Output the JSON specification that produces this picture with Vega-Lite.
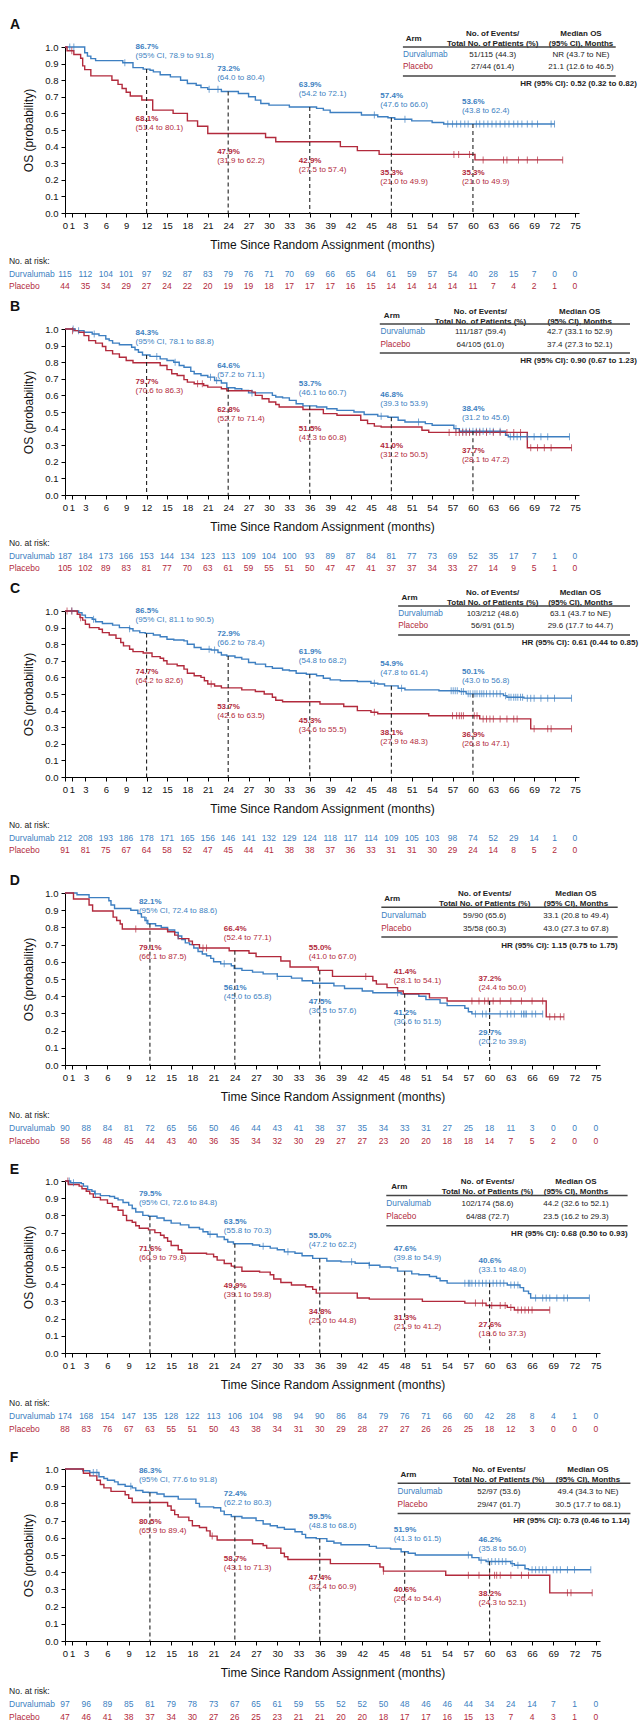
{
"$schema":"https://vega.github.io/schema/vega-lite/v6.json",
"background":"white",
"padding":{"left":8,"top":18,"right":0,"bottom":0},
"bounds":"flush",
"spacing":116,
"resolve":{"scale":{"x":"independent","y":"independent"}},
"config":{
 "font":"Liberation Sans, Arial, sans-serif",
 "view":{"stroke":null},
 "axis":{"grid":false,"domainColor":"#000","tickColor":"#000","labelColor":"#111","titleColor":"#111","labelFontSize":9.5,"titleFontSize":12,"titleFontWeight":"normal","tickSize":4,"labelPadding":3,"labelOverlap":false,"labelFlush":false,"titlePadding":10},
 "text":{"fontSize":8}
},
"datasets":{
"A":[
{"k":"hr","panel":"A","hr":"HR (95% CI): 0.52 (0.32 to 0.82)"},
{"k":"tab","arm":"Durvalumab","ev":"51/115 (44.3)","med":"NR (43.7 to NE)"},
{"k":"tab","arm":"Placebo","ev":"27/44 (61.4)","med":"21.1 (12.6 to 46.5)"},
{"k":"lm","arm":"Durvalumab","m":12,"v":0.867,"ci":"(95% CI, 78.9 to 91.8)"},
{"k":"lm","arm":"Durvalumab","m":24,"v":0.732,"ci":"(64.0 to 80.4)"},
{"k":"lm","arm":"Durvalumab","m":36,"v":0.639,"ci":"(54.2 to 72.1)"},
{"k":"lm","arm":"Durvalumab","m":48,"v":0.574,"ci":"(47.6 to 66.0)"},
{"k":"lm","arm":"Durvalumab","m":60,"v":0.536,"ci":"(43.8 to 62.4)"},
{"k":"lm","arm":"Placebo","m":12,"v":0.681,"ci":"(51.4 to 80.1)"},
{"k":"lm","arm":"Placebo","m":24,"v":0.479,"ci":"(31.9 to 62.2)"},
{"k":"lm","arm":"Placebo","m":36,"v":0.429,"ci":"(27.5 to 57.4)"},
{"k":"lm","arm":"Placebo","m":48,"v":0.353,"ci":"(21.0 to 49.9)"},
{"k":"lm","arm":"Placebo","m":60,"v":0.353,"ci":"(21.0 to 49.9)"},
{"k":"risk","m":0,"durvalumab":115,"placebo":44},{"k":"risk","m":3,"durvalumab":112,"placebo":35},{"k":"risk","m":6,"durvalumab":104,"placebo":34},{"k":"risk","m":9,"durvalumab":101,"placebo":29},{"k":"risk","m":12,"durvalumab":97,"placebo":27},{"k":"risk","m":15,"durvalumab":92,"placebo":24},{"k":"risk","m":18,"durvalumab":87,"placebo":22},{"k":"risk","m":21,"durvalumab":83,"placebo":20},{"k":"risk","m":24,"durvalumab":79,"placebo":19},{"k":"risk","m":27,"durvalumab":76,"placebo":19},{"k":"risk","m":30,"durvalumab":71,"placebo":18},{"k":"risk","m":33,"durvalumab":70,"placebo":17},{"k":"risk","m":36,"durvalumab":69,"placebo":17},{"k":"risk","m":39,"durvalumab":66,"placebo":17},{"k":"risk","m":42,"durvalumab":65,"placebo":16},{"k":"risk","m":45,"durvalumab":64,"placebo":15},{"k":"risk","m":48,"durvalumab":61,"placebo":14},{"k":"risk","m":51,"durvalumab":59,"placebo":14},{"k":"risk","m":54,"durvalumab":57,"placebo":14},{"k":"risk","m":57,"durvalumab":54,"placebo":14},{"k":"risk","m":60,"durvalumab":40,"placebo":11},{"k":"risk","m":63,"durvalumab":28,"placebo":7},{"k":"risk","m":66,"durvalumab":15,"placebo":4},{"k":"risk","m":69,"durvalumab":7,"placebo":2},{"k":"risk","m":72,"durvalumab":0,"placebo":1},{"k":"risk","m":75,"durvalumab":0,"placebo":0},
{"k":"km","arm":"Durvalumab","t":0,"s":1},{"k":"km","arm":"Durvalumab","t":2.9,"s":0.965},{"k":"km","arm":"Durvalumab","t":3.3,"s":0.945},{"k":"km","arm":"Durvalumab","t":3.8,"s":0.93},{"k":"km","arm":"Durvalumab","t":4.5,"s":0.918},{"k":"km","arm":"Durvalumab","t":8.5,"s":0.905},{"k":"km","arm":"Durvalumab","t":10,"s":0.876},{"k":"km","arm":"Durvalumab","t":11.5,"s":0.867},{"k":"km","arm":"Durvalumab","t":12.5,"s":0.86},{"k":"km","arm":"Durvalumab","t":13,"s":0.85},{"k":"km","arm":"Durvalumab","t":14,"s":0.833},{"k":"km","arm":"Durvalumab","t":15.5,"s":0.82},{"k":"km","arm":"Durvalumab","t":17,"s":0.8},{"k":"km","arm":"Durvalumab","t":18,"s":0.78},{"k":"km","arm":"Durvalumab","t":19.3,"s":0.77},{"k":"km","arm":"Durvalumab","t":20,"s":0.755},{"k":"km","arm":"Durvalumab","t":21,"s":0.745},{"k":"km","arm":"Durvalumab","t":23,"s":0.732},{"k":"km","arm":"Durvalumab","t":25.5,"s":0.72},{"k":"km","arm":"Durvalumab","t":27,"s":0.7},{"k":"km","arm":"Durvalumab","t":28,"s":0.68},{"k":"km","arm":"Durvalumab","t":28.8,"s":0.66},{"k":"km","arm":"Durvalumab","t":30,"s":0.65},{"k":"km","arm":"Durvalumab","t":33,"s":0.639},{"k":"km","arm":"Durvalumab","t":37,"s":0.63},{"k":"km","arm":"Durvalumab","t":38,"s":0.62},{"k":"km","arm":"Durvalumab","t":39,"s":0.605},{"k":"km","arm":"Durvalumab","t":43.6,"s":0.59},{"k":"km","arm":"Durvalumab","t":46,"s":0.58},{"k":"km","arm":"Durvalumab","t":47.5,"s":0.574},{"k":"km","arm":"Durvalumab","t":48.5,"s":0.565},{"k":"km","arm":"Durvalumab","t":51,"s":0.555},{"k":"km","arm":"Durvalumab","t":54,"s":0.545},{"k":"km","arm":"Durvalumab","t":55.7,"s":0.536},{"k":"km","arm":"Durvalumab","t":72,"s":0.536},
{"k":"cen","arm":"Durvalumab","t":0.7,"s":1},{"k":"cen","arm":"Durvalumab","t":1.3,"s":1},{"k":"cen","arm":"Durvalumab","t":8.8,"s":0.905},{"k":"cen","arm":"Durvalumab","t":21.2,"s":0.745},{"k":"cen","arm":"Durvalumab","t":22.5,"s":0.745},{"k":"cen","arm":"Durvalumab","t":45.5,"s":0.59},{"k":"cen","arm":"Durvalumab","t":50,"s":0.565},{"k":"cen","arm":"Durvalumab","t":56.3,"s":0.536},{"k":"cen","arm":"Durvalumab","t":57,"s":0.536},{"k":"cen","arm":"Durvalumab","t":57.6,"s":0.536},{"k":"cen","arm":"Durvalumab","t":58.2,"s":0.536},{"k":"cen","arm":"Durvalumab","t":58.8,"s":0.536},{"k":"cen","arm":"Durvalumab","t":59.3,"s":0.536},{"k":"cen","arm":"Durvalumab","t":60.5,"s":0.536},{"k":"cen","arm":"Durvalumab","t":61,"s":0.536},{"k":"cen","arm":"Durvalumab","t":61.6,"s":0.536},{"k":"cen","arm":"Durvalumab","t":62.2,"s":0.536},{"k":"cen","arm":"Durvalumab","t":62.8,"s":0.536},{"k":"cen","arm":"Durvalumab","t":63.4,"s":0.536},{"k":"cen","arm":"Durvalumab","t":64,"s":0.536},{"k":"cen","arm":"Durvalumab","t":64.7,"s":0.536},{"k":"cen","arm":"Durvalumab","t":65.3,"s":0.536},{"k":"cen","arm":"Durvalumab","t":66,"s":0.536},{"k":"cen","arm":"Durvalumab","t":66.6,"s":0.536},{"k":"cen","arm":"Durvalumab","t":67.2,"s":0.536},{"k":"cen","arm":"Durvalumab","t":68,"s":0.536},{"k":"cen","arm":"Durvalumab","t":68.7,"s":0.536},{"k":"cen","arm":"Durvalumab","t":69.5,"s":0.536},{"k":"cen","arm":"Durvalumab","t":71.5,"s":0.536},{"k":"cen","arm":"Durvalumab","t":72,"s":0.536},
{"k":"km","arm":"Placebo","t":0,"s":1},{"k":"km","arm":"Placebo","t":0.3,"s":0.977},{"k":"km","arm":"Placebo","t":1.3,"s":0.955},{"k":"km","arm":"Placebo","t":2.3,"s":0.932},{"k":"km","arm":"Placebo","t":2.6,"s":0.886},{"k":"km","arm":"Placebo","t":2.9,"s":0.864},{"k":"km","arm":"Placebo","t":3.8,"s":0.826},{"k":"km","arm":"Placebo","t":6.9,"s":0.8},{"k":"km","arm":"Placebo","t":7.8,"s":0.775},{"k":"km","arm":"Placebo","t":8.4,"s":0.75},{"k":"km","arm":"Placebo","t":9,"s":0.727},{"k":"km","arm":"Placebo","t":9.6,"s":0.705},{"k":"km","arm":"Placebo","t":11.3,"s":0.681},{"k":"km","arm":"Placebo","t":12.9,"s":0.62},{"k":"km","arm":"Placebo","t":15.9,"s":0.6},{"k":"km","arm":"Placebo","t":18,"s":0.555},{"k":"km","arm":"Placebo","t":19.5,"s":0.523},{"k":"km","arm":"Placebo","t":21,"s":0.479},{"k":"km","arm":"Placebo","t":29.5,"s":0.455},{"k":"km","arm":"Placebo","t":31,"s":0.429},{"k":"km","arm":"Placebo","t":40.5,"s":0.4},{"k":"km","arm":"Placebo","t":43,"s":0.376},{"k":"km","arm":"Placebo","t":46.2,"s":0.353},{"k":"km","arm":"Placebo","t":60.3,"s":0.32},{"k":"km","arm":"Placebo","t":73.2,"s":0.32},
{"k":"cen","arm":"Placebo","t":1,"s":0.977},{"k":"cen","arm":"Placebo","t":57.2,"s":0.353},{"k":"cen","arm":"Placebo","t":57.9,"s":0.353},{"k":"cen","arm":"Placebo","t":59.5,"s":0.353},{"k":"cen","arm":"Placebo","t":61.5,"s":0.32},{"k":"cen","arm":"Placebo","t":64.5,"s":0.32},{"k":"cen","arm":"Placebo","t":65,"s":0.32},{"k":"cen","arm":"Placebo","t":66.7,"s":0.32},{"k":"cen","arm":"Placebo","t":68,"s":0.32},{"k":"cen","arm":"Placebo","t":69.5,"s":0.32},{"k":"cen","arm":"Placebo","t":73.2,"s":0.32}
],
"B":[
{"k":"hr","panel":"B","hr":"HR (95% CI): 0.90 (0.67 to 1.23)"},
{"k":"tab","arm":"Durvalumab","ev":"111/187 (59.4)","med":"42.7 (33.1 to 52.9)"},
{"k":"tab","arm":"Placebo","ev":"64/105 (61.0)","med":"37.4 (27.3 to 52.1)"},
{"k":"lm","arm":"Durvalumab","m":12,"v":0.843,"ci":"(95% CI, 78.1 to 88.8)"},
{"k":"lm","arm":"Durvalumab","m":24,"v":0.646,"ci":"(57.2 to 71.1)"},
{"k":"lm","arm":"Durvalumab","m":36,"v":0.537,"ci":"(46.1 to 60.7)"},
{"k":"lm","arm":"Durvalumab","m":48,"v":0.468,"ci":"(39.3 to 53.9)"},
{"k":"lm","arm":"Durvalumab","m":60,"v":0.384,"ci":"(31.2 to 45.6)"},
{"k":"lm","arm":"Placebo","m":12,"v":0.797,"ci":"(70.6 to 86.3)"},
{"k":"lm","arm":"Placebo","m":24,"v":0.628,"ci":"(52.7 to 71.4)"},
{"k":"lm","arm":"Placebo","m":36,"v":0.515,"ci":"(41.3 to 60.8)"},
{"k":"lm","arm":"Placebo","m":48,"v":0.41,"ci":"(31.2 to 50.5)"},
{"k":"lm","arm":"Placebo","m":60,"v":0.377,"ci":"(28.1 to 47.2)"},
{"k":"risk","m":0,"durvalumab":187,"placebo":105},{"k":"risk","m":3,"durvalumab":184,"placebo":102},{"k":"risk","m":6,"durvalumab":173,"placebo":89},{"k":"risk","m":9,"durvalumab":166,"placebo":83},{"k":"risk","m":12,"durvalumab":153,"placebo":81},{"k":"risk","m":15,"durvalumab":144,"placebo":77},{"k":"risk","m":18,"durvalumab":134,"placebo":70},{"k":"risk","m":21,"durvalumab":123,"placebo":63},{"k":"risk","m":24,"durvalumab":113,"placebo":61},{"k":"risk","m":27,"durvalumab":109,"placebo":59},{"k":"risk","m":30,"durvalumab":104,"placebo":55},{"k":"risk","m":33,"durvalumab":100,"placebo":51},{"k":"risk","m":36,"durvalumab":93,"placebo":50},{"k":"risk","m":39,"durvalumab":89,"placebo":47},{"k":"risk","m":42,"durvalumab":87,"placebo":47},{"k":"risk","m":45,"durvalumab":84,"placebo":41},{"k":"risk","m":48,"durvalumab":81,"placebo":37},{"k":"risk","m":51,"durvalumab":77,"placebo":37},{"k":"risk","m":54,"durvalumab":73,"placebo":34},{"k":"risk","m":57,"durvalumab":69,"placebo":33},{"k":"risk","m":60,"durvalumab":52,"placebo":27},{"k":"risk","m":63,"durvalumab":35,"placebo":14},{"k":"risk","m":66,"durvalumab":17,"placebo":9},{"k":"risk","m":69,"durvalumab":7,"placebo":5},{"k":"risk","m":72,"durvalumab":1,"placebo":1},{"k":"risk","m":75,"durvalumab":0,"placebo":0},
{"k":"km","arm":"Durvalumab","t":0,"s":1},{"k":"km","arm":"Durvalumab","t":1.5,"s":0.99},{"k":"km","arm":"Durvalumab","t":2.8,"s":0.98},{"k":"km","arm":"Durvalumab","t":4,"s":0.97},{"k":"km","arm":"Durvalumab","t":5,"s":0.96},{"k":"km","arm":"Durvalumab","t":6,"s":0.94},{"k":"km","arm":"Durvalumab","t":6.5,"s":0.93},{"k":"km","arm":"Durvalumab","t":7,"s":0.915},{"k":"km","arm":"Durvalumab","t":8,"s":0.905},{"k":"km","arm":"Durvalumab","t":9.8,"s":0.89},{"k":"km","arm":"Durvalumab","t":10.3,"s":0.875},{"k":"km","arm":"Durvalumab","t":10.8,"s":0.86},{"k":"km","arm":"Durvalumab","t":11.4,"s":0.843},{"k":"km","arm":"Durvalumab","t":12.5,"s":0.835},{"k":"km","arm":"Durvalumab","t":14,"s":0.82},{"k":"km","arm":"Durvalumab","t":15,"s":0.81},{"k":"km","arm":"Durvalumab","t":16,"s":0.8},{"k":"km","arm":"Durvalumab","t":16.8,"s":0.78},{"k":"km","arm":"Durvalumab","t":17.5,"s":0.77},{"k":"km","arm":"Durvalumab","t":18.5,"s":0.745},{"k":"km","arm":"Durvalumab","t":19,"s":0.73},{"k":"km","arm":"Durvalumab","t":20,"s":0.72},{"k":"km","arm":"Durvalumab","t":21,"s":0.71},{"k":"km","arm":"Durvalumab","t":22,"s":0.69},{"k":"km","arm":"Durvalumab","t":23,"s":0.675},{"k":"km","arm":"Durvalumab","t":23.8,"s":0.646},{"k":"km","arm":"Durvalumab","t":25,"s":0.64},{"k":"km","arm":"Durvalumab","t":26,"s":0.63},{"k":"km","arm":"Durvalumab","t":27,"s":0.615},{"k":"km","arm":"Durvalumab","t":30.5,"s":0.6},{"k":"km","arm":"Durvalumab","t":31,"s":0.59},{"k":"km","arm":"Durvalumab","t":32,"s":0.585},{"k":"km","arm":"Durvalumab","t":33,"s":0.57},{"k":"km","arm":"Durvalumab","t":34,"s":0.55},{"k":"km","arm":"Durvalumab","t":35,"s":0.537},{"k":"km","arm":"Durvalumab","t":37,"s":0.53},{"k":"km","arm":"Durvalumab","t":38.5,"s":0.52},{"k":"km","arm":"Durvalumab","t":40,"s":0.51},{"k":"km","arm":"Durvalumab","t":42.5,"s":0.5},{"k":"km","arm":"Durvalumab","t":44,"s":0.485},{"k":"km","arm":"Durvalumab","t":46,"s":0.475},{"k":"km","arm":"Durvalumab","t":47.5,"s":0.468},{"k":"km","arm":"Durvalumab","t":49,"s":0.45},{"k":"km","arm":"Durvalumab","t":50,"s":0.44},{"k":"km","arm":"Durvalumab","t":53,"s":0.43},{"k":"km","arm":"Durvalumab","t":54,"s":0.42},{"k":"km","arm":"Durvalumab","t":57.2,"s":0.4},{"k":"km","arm":"Durvalumab","t":58,"s":0.384},{"k":"km","arm":"Durvalumab","t":64.8,"s":0.36},{"k":"km","arm":"Durvalumab","t":65.2,"s":0.351},{"k":"km","arm":"Durvalumab","t":74.2,"s":0.351},
{"k":"cen","arm":"Durvalumab","t":1.2,"s":1},{"k":"cen","arm":"Durvalumab","t":2,"s":0.99},{"k":"cen","arm":"Durvalumab","t":4.3,"s":0.97},{"k":"cen","arm":"Durvalumab","t":13.5,"s":0.835},{"k":"cen","arm":"Durvalumab","t":16.2,"s":0.8},{"k":"cen","arm":"Durvalumab","t":21.4,"s":0.71},{"k":"cen","arm":"Durvalumab","t":22.3,"s":0.69},{"k":"cen","arm":"Durvalumab","t":27.5,"s":0.615},{"k":"cen","arm":"Durvalumab","t":46.5,"s":0.475},{"k":"cen","arm":"Durvalumab","t":52,"s":0.44},{"k":"cen","arm":"Durvalumab","t":57.5,"s":0.4},{"k":"cen","arm":"Durvalumab","t":58.5,"s":0.384},{"k":"cen","arm":"Durvalumab","t":59,"s":0.384},{"k":"cen","arm":"Durvalumab","t":59.5,"s":0.384},{"k":"cen","arm":"Durvalumab","t":60,"s":0.384},{"k":"cen","arm":"Durvalumab","t":60.5,"s":0.384},{"k":"cen","arm":"Durvalumab","t":61,"s":0.384},{"k":"cen","arm":"Durvalumab","t":61.5,"s":0.384},{"k":"cen","arm":"Durvalumab","t":62,"s":0.384},{"k":"cen","arm":"Durvalumab","t":62.5,"s":0.384},{"k":"cen","arm":"Durvalumab","t":63,"s":0.384},{"k":"cen","arm":"Durvalumab","t":64,"s":0.384},{"k":"cen","arm":"Durvalumab","t":65.5,"s":0.351},{"k":"cen","arm":"Durvalumab","t":66,"s":0.351},{"k":"cen","arm":"Durvalumab","t":66.5,"s":0.351},{"k":"cen","arm":"Durvalumab","t":67,"s":0.351},{"k":"cen","arm":"Durvalumab","t":68,"s":0.351},{"k":"cen","arm":"Durvalumab","t":69,"s":0.351},{"k":"cen","arm":"Durvalumab","t":70,"s":0.351},{"k":"cen","arm":"Durvalumab","t":71,"s":0.351},{"k":"cen","arm":"Durvalumab","t":74.2,"s":0.351},
{"k":"km","arm":"Placebo","t":0,"s":1},{"k":"km","arm":"Placebo","t":1.3,"s":0.99},{"k":"km","arm":"Placebo","t":2,"s":0.98},{"k":"km","arm":"Placebo","t":2.8,"s":0.96},{"k":"km","arm":"Placebo","t":3.5,"s":0.93},{"k":"km","arm":"Placebo","t":4.5,"s":0.915},{"k":"km","arm":"Placebo","t":5.5,"s":0.895},{"k":"km","arm":"Placebo","t":6,"s":0.87},{"k":"km","arm":"Placebo","t":7,"s":0.85},{"k":"km","arm":"Placebo","t":8,"s":0.83},{"k":"km","arm":"Placebo","t":9,"s":0.81},{"k":"km","arm":"Placebo","t":10,"s":0.797},{"k":"km","arm":"Placebo","t":14,"s":0.78},{"k":"km","arm":"Placebo","t":15,"s":0.755},{"k":"km","arm":"Placebo","t":15.7,"s":0.73},{"k":"km","arm":"Placebo","t":16.5,"s":0.72},{"k":"km","arm":"Placebo","t":17.5,"s":0.695},{"k":"km","arm":"Placebo","t":18,"s":0.68},{"k":"km","arm":"Placebo","t":19,"s":0.67},{"k":"km","arm":"Placebo","t":20.4,"s":0.66},{"k":"km","arm":"Placebo","t":21,"s":0.65},{"k":"km","arm":"Placebo","t":23,"s":0.64},{"k":"km","arm":"Placebo","t":23.8,"s":0.628},{"k":"km","arm":"Placebo","t":27.5,"s":0.62},{"k":"km","arm":"Placebo","t":28,"s":0.6},{"k":"km","arm":"Placebo","t":29,"s":0.58},{"k":"km","arm":"Placebo","t":30,"s":0.56},{"k":"km","arm":"Placebo","t":31,"s":0.545},{"k":"km","arm":"Placebo","t":31.5,"s":0.53},{"k":"km","arm":"Placebo","t":35,"s":0.515},{"k":"km","arm":"Placebo","t":38,"s":0.49},{"k":"km","arm":"Placebo","t":40,"s":0.48},{"k":"km","arm":"Placebo","t":43.5,"s":0.45},{"k":"km","arm":"Placebo","t":44.5,"s":0.43},{"k":"km","arm":"Placebo","t":45.5,"s":0.415},{"k":"km","arm":"Placebo","t":46.5,"s":0.41},{"k":"km","arm":"Placebo","t":52.5,"s":0.39},{"k":"km","arm":"Placebo","t":53.5,"s":0.377},{"k":"km","arm":"Placebo","t":68,"s":0.285},{"k":"km","arm":"Placebo","t":74.5,"s":0.285},
{"k":"cen","arm":"Placebo","t":1.1,"s":0.99},{"k":"cen","arm":"Placebo","t":19.5,"s":0.67},{"k":"cen","arm":"Placebo","t":20.2,"s":0.67},{"k":"cen","arm":"Placebo","t":56.5,"s":0.377},{"k":"cen","arm":"Placebo","t":57.5,"s":0.377},{"k":"cen","arm":"Placebo","t":58,"s":0.377},{"k":"cen","arm":"Placebo","t":58.5,"s":0.377},{"k":"cen","arm":"Placebo","t":59,"s":0.377},{"k":"cen","arm":"Placebo","t":59.5,"s":0.377},{"k":"cen","arm":"Placebo","t":60.5,"s":0.377},{"k":"cen","arm":"Placebo","t":61,"s":0.377},{"k":"cen","arm":"Placebo","t":62,"s":0.377},{"k":"cen","arm":"Placebo","t":63,"s":0.377},{"k":"cen","arm":"Placebo","t":64,"s":0.377},{"k":"cen","arm":"Placebo","t":65,"s":0.377},{"k":"cen","arm":"Placebo","t":66,"s":0.377},{"k":"cen","arm":"Placebo","t":67,"s":0.377},{"k":"cen","arm":"Placebo","t":68.5,"s":0.285},{"k":"cen","arm":"Placebo","t":69.5,"s":0.285},{"k":"cen","arm":"Placebo","t":70.5,"s":0.285},{"k":"cen","arm":"Placebo","t":71.5,"s":0.285},{"k":"cen","arm":"Placebo","t":74.5,"s":0.285}
],
"C":[
{"k":"hr","panel":"C","hr":"HR (95% CI): 0.61 (0.44 to 0.85)"},
{"k":"tab","arm":"Durvalumab","ev":"103/212 (48.6)","med":"63.1 (43.7 to NE)"},
{"k":"tab","arm":"Placebo","ev":"56/91 (61.5)","med":"29.6 (17.7 to 44.7)"},
{"k":"lm","arm":"Durvalumab","m":12,"v":0.865,"ci":"(95% CI, 81.1 to 90.5)"},
{"k":"lm","arm":"Durvalumab","m":24,"v":0.729,"ci":"(66.2 to 78.4)"},
{"k":"lm","arm":"Durvalumab","m":36,"v":0.619,"ci":"(54.8 to 68.2)"},
{"k":"lm","arm":"Durvalumab","m":48,"v":0.549,"ci":"(47.8 to 61.4)"},
{"k":"lm","arm":"Durvalumab","m":60,"v":0.501,"ci":"(43.0 to 56.8)"},
{"k":"lm","arm":"Placebo","m":12,"v":0.747,"ci":"(64.2 to 82.6)"},
{"k":"lm","arm":"Placebo","m":24,"v":0.537,"ci":"(42.6 to 63.5)"},
{"k":"lm","arm":"Placebo","m":36,"v":0.453,"ci":"(34.6 to 55.5)"},
{"k":"lm","arm":"Placebo","m":48,"v":0.381,"ci":"(27.9 to 48.3)"},
{"k":"lm","arm":"Placebo","m":60,"v":0.369,"ci":"(26.8 to 47.1)"},
{"k":"risk","m":0,"durvalumab":212,"placebo":91},{"k":"risk","m":3,"durvalumab":208,"placebo":81},{"k":"risk","m":6,"durvalumab":193,"placebo":75},{"k":"risk","m":9,"durvalumab":186,"placebo":67},{"k":"risk","m":12,"durvalumab":178,"placebo":64},{"k":"risk","m":15,"durvalumab":171,"placebo":58},{"k":"risk","m":18,"durvalumab":165,"placebo":52},{"k":"risk","m":21,"durvalumab":156,"placebo":47},{"k":"risk","m":24,"durvalumab":146,"placebo":45},{"k":"risk","m":27,"durvalumab":141,"placebo":44},{"k":"risk","m":30,"durvalumab":132,"placebo":41},{"k":"risk","m":33,"durvalumab":129,"placebo":38},{"k":"risk","m":36,"durvalumab":124,"placebo":38},{"k":"risk","m":39,"durvalumab":118,"placebo":37},{"k":"risk","m":42,"durvalumab":117,"placebo":36},{"k":"risk","m":45,"durvalumab":114,"placebo":33},{"k":"risk","m":48,"durvalumab":109,"placebo":31},{"k":"risk","m":51,"durvalumab":105,"placebo":31},{"k":"risk","m":54,"durvalumab":103,"placebo":30},{"k":"risk","m":57,"durvalumab":98,"placebo":29},{"k":"risk","m":60,"durvalumab":74,"placebo":24},{"k":"risk","m":63,"durvalumab":52,"placebo":14},{"k":"risk","m":66,"durvalumab":29,"placebo":8},{"k":"risk","m":69,"durvalumab":14,"placebo":5},{"k":"risk","m":72,"durvalumab":1,"placebo":2},{"k":"risk","m":75,"durvalumab":0,"placebo":0},
{"k":"km","arm":"Durvalumab","t":0,"s":1},{"k":"km","arm":"Durvalumab","t":2,"s":0.99},{"k":"km","arm":"Durvalumab","t":2.5,"s":0.975},{"k":"km","arm":"Durvalumab","t":3,"s":0.96},{"k":"km","arm":"Durvalumab","t":4,"s":0.95},{"k":"km","arm":"Durvalumab","t":4.5,"s":0.935},{"k":"km","arm":"Durvalumab","t":5.5,"s":0.925},{"k":"km","arm":"Durvalumab","t":7,"s":0.915},{"k":"km","arm":"Durvalumab","t":8,"s":0.9},{"k":"km","arm":"Durvalumab","t":9.5,"s":0.893},{"k":"km","arm":"Durvalumab","t":10,"s":0.88},{"k":"km","arm":"Durvalumab","t":11,"s":0.87},{"k":"km","arm":"Durvalumab","t":11.8,"s":0.865},{"k":"km","arm":"Durvalumab","t":13,"s":0.855},{"k":"km","arm":"Durvalumab","t":14,"s":0.845},{"k":"km","arm":"Durvalumab","t":15,"s":0.83},{"k":"km","arm":"Durvalumab","t":16,"s":0.825},{"k":"km","arm":"Durvalumab","t":17.5,"s":0.82},{"k":"km","arm":"Durvalumab","t":18,"s":0.8},{"k":"km","arm":"Durvalumab","t":19,"s":0.78},{"k":"km","arm":"Durvalumab","t":20,"s":0.77},{"k":"km","arm":"Durvalumab","t":21.5,"s":0.765},{"k":"km","arm":"Durvalumab","t":22.5,"s":0.75},{"k":"km","arm":"Durvalumab","t":23,"s":0.735},{"k":"km","arm":"Durvalumab","t":23.8,"s":0.729},{"k":"km","arm":"Durvalumab","t":25,"s":0.72},{"k":"km","arm":"Durvalumab","t":26,"s":0.71},{"k":"km","arm":"Durvalumab","t":27,"s":0.69},{"k":"km","arm":"Durvalumab","t":28,"s":0.68},{"k":"km","arm":"Durvalumab","t":29.5,"s":0.665},{"k":"km","arm":"Durvalumab","t":30.5,"s":0.655},{"k":"km","arm":"Durvalumab","t":32,"s":0.645},{"k":"km","arm":"Durvalumab","t":33,"s":0.64},{"k":"km","arm":"Durvalumab","t":34,"s":0.625},{"k":"km","arm":"Durvalumab","t":35.5,"s":0.619},{"k":"km","arm":"Durvalumab","t":37,"s":0.61},{"k":"km","arm":"Durvalumab","t":38,"s":0.595},{"k":"km","arm":"Durvalumab","t":39,"s":0.585},{"k":"km","arm":"Durvalumab","t":40.5,"s":0.58},{"k":"km","arm":"Durvalumab","t":43,"s":0.575},{"k":"km","arm":"Durvalumab","t":45,"s":0.565},{"k":"km","arm":"Durvalumab","t":46,"s":0.56},{"k":"km","arm":"Durvalumab","t":47,"s":0.549},{"k":"km","arm":"Durvalumab","t":49,"s":0.535},{"k":"km","arm":"Durvalumab","t":50,"s":0.525},{"k":"km","arm":"Durvalumab","t":55,"s":0.52},{"k":"km","arm":"Durvalumab","t":58,"s":0.515},{"k":"km","arm":"Durvalumab","t":59,"s":0.501},{"k":"km","arm":"Durvalumab","t":64.5,"s":0.49},{"k":"km","arm":"Durvalumab","t":65,"s":0.48},{"k":"km","arm":"Durvalumab","t":67.5,"s":0.475},{"k":"km","arm":"Durvalumab","t":74.5,"s":0.475},
{"k":"cen","arm":"Durvalumab","t":1,"s":1},{"k":"cen","arm":"Durvalumab","t":4.2,"s":0.95},{"k":"cen","arm":"Durvalumab","t":9.5,"s":0.893},{"k":"cen","arm":"Durvalumab","t":21.2,"s":0.77},{"k":"cen","arm":"Durvalumab","t":22,"s":0.765},{"k":"cen","arm":"Durvalumab","t":45.5,"s":0.565},{"k":"cen","arm":"Durvalumab","t":49.5,"s":0.535},{"k":"cen","arm":"Durvalumab","t":56.8,"s":0.52},{"k":"cen","arm":"Durvalumab","t":57.1,"s":0.52},{"k":"cen","arm":"Durvalumab","t":57.4,"s":0.52},{"k":"cen","arm":"Durvalumab","t":57.7,"s":0.52},{"k":"cen","arm":"Durvalumab","t":58.3,"s":0.515},{"k":"cen","arm":"Durvalumab","t":58.6,"s":0.515},{"k":"cen","arm":"Durvalumab","t":59.3,"s":0.501},{"k":"cen","arm":"Durvalumab","t":59.6,"s":0.501},{"k":"cen","arm":"Durvalumab","t":60,"s":0.501},{"k":"cen","arm":"Durvalumab","t":60.3,"s":0.501},{"k":"cen","arm":"Durvalumab","t":60.6,"s":0.501},{"k":"cen","arm":"Durvalumab","t":61,"s":0.501},{"k":"cen","arm":"Durvalumab","t":61.3,"s":0.501},{"k":"cen","arm":"Durvalumab","t":61.6,"s":0.501},{"k":"cen","arm":"Durvalumab","t":62,"s":0.501},{"k":"cen","arm":"Durvalumab","t":62.5,"s":0.501},{"k":"cen","arm":"Durvalumab","t":63,"s":0.501},{"k":"cen","arm":"Durvalumab","t":63.5,"s":0.501},{"k":"cen","arm":"Durvalumab","t":64,"s":0.501},{"k":"cen","arm":"Durvalumab","t":64.8,"s":0.49},{"k":"cen","arm":"Durvalumab","t":65.3,"s":0.48},{"k":"cen","arm":"Durvalumab","t":65.6,"s":0.48},{"k":"cen","arm":"Durvalumab","t":66,"s":0.48},{"k":"cen","arm":"Durvalumab","t":66.3,"s":0.48},{"k":"cen","arm":"Durvalumab","t":66.6,"s":0.48},{"k":"cen","arm":"Durvalumab","t":67,"s":0.48},{"k":"cen","arm":"Durvalumab","t":67.3,"s":0.48},{"k":"cen","arm":"Durvalumab","t":68,"s":0.475},{"k":"cen","arm":"Durvalumab","t":68.5,"s":0.475},{"k":"cen","arm":"Durvalumab","t":69,"s":0.475},{"k":"cen","arm":"Durvalumab","t":70,"s":0.475},{"k":"cen","arm":"Durvalumab","t":71,"s":0.475},{"k":"cen","arm":"Durvalumab","t":72,"s":0.475},{"k":"cen","arm":"Durvalumab","t":74.5,"s":0.475},
{"k":"km","arm":"Placebo","t":0,"s":1},{"k":"km","arm":"Placebo","t":1.8,"s":0.98},{"k":"km","arm":"Placebo","t":2.2,"s":0.96},{"k":"km","arm":"Placebo","t":2.6,"s":0.945},{"k":"km","arm":"Placebo","t":3,"s":0.92},{"k":"km","arm":"Placebo","t":3.6,"s":0.9},{"k":"km","arm":"Placebo","t":5,"s":0.89},{"k":"km","arm":"Placebo","t":5.5,"s":0.87},{"k":"km","arm":"Placebo","t":6.5,"s":0.855},{"k":"km","arm":"Placebo","t":7.5,"s":0.835},{"k":"km","arm":"Placebo","t":8.2,"s":0.81},{"k":"km","arm":"Placebo","t":8.6,"s":0.79},{"k":"km","arm":"Placebo","t":9.5,"s":0.77},{"k":"km","arm":"Placebo","t":10,"s":0.755},{"k":"km","arm":"Placebo","t":11.5,"s":0.747},{"k":"km","arm":"Placebo","t":12.8,"s":0.725},{"k":"km","arm":"Placebo","t":14,"s":0.715},{"k":"km","arm":"Placebo","t":14.5,"s":0.7},{"k":"km","arm":"Placebo","t":15,"s":0.68},{"k":"km","arm":"Placebo","t":16.5,"s":0.67},{"k":"km","arm":"Placebo","t":17.5,"s":0.65},{"k":"km","arm":"Placebo","t":18,"s":0.625},{"k":"km","arm":"Placebo","t":19,"s":0.61},{"k":"km","arm":"Placebo","t":20,"s":0.6},{"k":"km","arm":"Placebo","t":20.5,"s":0.58},{"k":"km","arm":"Placebo","t":21,"s":0.56},{"k":"km","arm":"Placebo","t":22,"s":0.548},{"k":"km","arm":"Placebo","t":23,"s":0.537},{"k":"km","arm":"Placebo","t":26,"s":0.525},{"k":"km","arm":"Placebo","t":28,"s":0.515},{"k":"km","arm":"Placebo","t":29.3,"s":0.5},{"k":"km","arm":"Placebo","t":30.5,"s":0.48},{"k":"km","arm":"Placebo","t":31,"s":0.462},{"k":"km","arm":"Placebo","t":32,"s":0.453},{"k":"km","arm":"Placebo","t":37.5,"s":0.44},{"k":"km","arm":"Placebo","t":41,"s":0.425},{"k":"km","arm":"Placebo","t":43,"s":0.4},{"k":"km","arm":"Placebo","t":45,"s":0.39},{"k":"km","arm":"Placebo","t":46,"s":0.381},{"k":"km","arm":"Placebo","t":53.5,"s":0.369},{"k":"km","arm":"Placebo","t":61,"s":0.35},{"k":"km","arm":"Placebo","t":68.5,"s":0.29},{"k":"km","arm":"Placebo","t":74.5,"s":0.29},
{"k":"cen","arm":"Placebo","t":0.3,"s":1},{"k":"cen","arm":"Placebo","t":1,"s":1},{"k":"cen","arm":"Placebo","t":2.3,"s":0.96},{"k":"cen","arm":"Placebo","t":21.5,"s":0.56},{"k":"cen","arm":"Placebo","t":45.5,"s":0.39},{"k":"cen","arm":"Placebo","t":57,"s":0.369},{"k":"cen","arm":"Placebo","t":57.6,"s":0.369},{"k":"cen","arm":"Placebo","t":58,"s":0.369},{"k":"cen","arm":"Placebo","t":58.3,"s":0.369},{"k":"cen","arm":"Placebo","t":58.6,"s":0.369},{"k":"cen","arm":"Placebo","t":60.2,"s":0.369},{"k":"cen","arm":"Placebo","t":60.6,"s":0.369},{"k":"cen","arm":"Placebo","t":61.5,"s":0.35},{"k":"cen","arm":"Placebo","t":62,"s":0.35},{"k":"cen","arm":"Placebo","t":62.5,"s":0.35},{"k":"cen","arm":"Placebo","t":63,"s":0.35},{"k":"cen","arm":"Placebo","t":64,"s":0.35},{"k":"cen","arm":"Placebo","t":65,"s":0.35},{"k":"cen","arm":"Placebo","t":66,"s":0.35},{"k":"cen","arm":"Placebo","t":66.5,"s":0.35},{"k":"cen","arm":"Placebo","t":69,"s":0.29},{"k":"cen","arm":"Placebo","t":71,"s":0.29},{"k":"cen","arm":"Placebo","t":71.5,"s":0.29},{"k":"cen","arm":"Placebo","t":74.5,"s":0.29}
],
"D":[
{"k":"hr","panel":"D","hr":"HR (95% CI): 1.15 (0.75 to 1.75)"},
{"k":"tab","arm":"Durvalumab","ev":"59/90 (65.6)","med":"33.1 (20.8 to 49.4)"},
{"k":"tab","arm":"Placebo","ev":"35/58 (60.3)","med":"43.0 (27.3 to 67.8)"},
{"k":"lm","arm":"Durvalumab","m":12,"v":0.821,"ci":"(95% CI, 72.4 to 88.6)"},
{"k":"lm","arm":"Durvalumab","m":24,"v":0.561,"ci":"(45.0 to 65.8)"},
{"k":"lm","arm":"Durvalumab","m":36,"v":0.475,"ci":"(36.5 to 57.6)"},
{"k":"lm","arm":"Durvalumab","m":48,"v":0.412,"ci":"(30.6 to 51.5)"},
{"k":"lm","arm":"Durvalumab","m":60,"v":0.297,"ci":"(20.2 to 39.8)"},
{"k":"lm","arm":"Placebo","m":12,"v":0.791,"ci":"(66.1 to 87.5)"},
{"k":"lm","arm":"Placebo","m":24,"v":0.664,"ci":"(52.4 to 77.1)"},
{"k":"lm","arm":"Placebo","m":36,"v":0.55,"ci":"(41.0 to 67.0)"},
{"k":"lm","arm":"Placebo","m":48,"v":0.414,"ci":"(28.1 to 54.1)"},
{"k":"lm","arm":"Placebo","m":60,"v":0.372,"ci":"(24.4 to 50.0)"},
{"k":"risk","m":0,"durvalumab":90,"placebo":58},{"k":"risk","m":3,"durvalumab":88,"placebo":56},{"k":"risk","m":6,"durvalumab":84,"placebo":48},{"k":"risk","m":9,"durvalumab":81,"placebo":45},{"k":"risk","m":12,"durvalumab":72,"placebo":44},{"k":"risk","m":15,"durvalumab":65,"placebo":43},{"k":"risk","m":18,"durvalumab":56,"placebo":40},{"k":"risk","m":21,"durvalumab":50,"placebo":36},{"k":"risk","m":24,"durvalumab":46,"placebo":35},{"k":"risk","m":27,"durvalumab":44,"placebo":34},{"k":"risk","m":30,"durvalumab":43,"placebo":32},{"k":"risk","m":33,"durvalumab":41,"placebo":30},{"k":"risk","m":36,"durvalumab":38,"placebo":29},{"k":"risk","m":39,"durvalumab":37,"placebo":27},{"k":"risk","m":42,"durvalumab":35,"placebo":27},{"k":"risk","m":45,"durvalumab":34,"placebo":23},{"k":"risk","m":48,"durvalumab":33,"placebo":20},{"k":"risk","m":51,"durvalumab":31,"placebo":20},{"k":"risk","m":54,"durvalumab":27,"placebo":18},{"k":"risk","m":57,"durvalumab":25,"placebo":18},{"k":"risk","m":60,"durvalumab":18,"placebo":14},{"k":"risk","m":63,"durvalumab":11,"placebo":7},{"k":"risk","m":66,"durvalumab":3,"placebo":5},{"k":"risk","m":69,"durvalumab":0,"placebo":2},{"k":"risk","m":72,"durvalumab":0,"placebo":0},{"k":"risk","m":75,"durvalumab":0,"placebo":0},
{"k":"km","arm":"Durvalumab","t":0,"s":1},{"k":"km","arm":"Durvalumab","t":1.7,"s":0.99},{"k":"km","arm":"Durvalumab","t":3.4,"s":0.973},{"k":"km","arm":"Durvalumab","t":6.2,"s":0.955},{"k":"km","arm":"Durvalumab","t":6.5,"s":0.93},{"k":"km","arm":"Durvalumab","t":7,"s":0.91},{"k":"km","arm":"Durvalumab","t":9.3,"s":0.9},{"k":"km","arm":"Durvalumab","t":10.3,"s":0.88},{"k":"km","arm":"Durvalumab","t":10.8,"s":0.86},{"k":"km","arm":"Durvalumab","t":11.3,"s":0.84},{"k":"km","arm":"Durvalumab","t":11.7,"s":0.821},{"k":"km","arm":"Durvalumab","t":12.8,"s":0.81},{"k":"km","arm":"Durvalumab","t":13.6,"s":0.8},{"k":"km","arm":"Durvalumab","t":14.5,"s":0.785},{"k":"km","arm":"Durvalumab","t":15.5,"s":0.77},{"k":"km","arm":"Durvalumab","t":16,"s":0.75},{"k":"km","arm":"Durvalumab","t":16.5,"s":0.73},{"k":"km","arm":"Durvalumab","t":17,"s":0.71},{"k":"km","arm":"Durvalumab","t":17.6,"s":0.7},{"k":"km","arm":"Durvalumab","t":18.2,"s":0.68},{"k":"km","arm":"Durvalumab","t":18.8,"s":0.66},{"k":"km","arm":"Durvalumab","t":19.4,"s":0.645},{"k":"km","arm":"Durvalumab","t":20,"s":0.635},{"k":"km","arm":"Durvalumab","t":20.6,"s":0.62},{"k":"km","arm":"Durvalumab","t":21,"s":0.6},{"k":"km","arm":"Durvalumab","t":22,"s":0.588},{"k":"km","arm":"Durvalumab","t":23.5,"s":0.577},{"k":"km","arm":"Durvalumab","t":23.9,"s":0.561},{"k":"km","arm":"Durvalumab","t":25,"s":0.55},{"k":"km","arm":"Durvalumab","t":26.5,"s":0.54},{"k":"km","arm":"Durvalumab","t":28,"s":0.53},{"k":"km","arm":"Durvalumab","t":30,"s":0.515},{"k":"km","arm":"Durvalumab","t":32,"s":0.505},{"k":"km","arm":"Durvalumab","t":33.5,"s":0.49},{"k":"km","arm":"Durvalumab","t":35,"s":0.475},{"k":"km","arm":"Durvalumab","t":38,"s":0.46},{"k":"km","arm":"Durvalumab","t":39.5,"s":0.445},{"k":"km","arm":"Durvalumab","t":42,"s":0.43},{"k":"km","arm":"Durvalumab","t":43.5,"s":0.42},{"k":"km","arm":"Durvalumab","t":47.5,"s":0.412},{"k":"km","arm":"Durvalumab","t":50,"s":0.4},{"k":"km","arm":"Durvalumab","t":51,"s":0.38},{"k":"km","arm":"Durvalumab","t":53,"s":0.36},{"k":"km","arm":"Durvalumab","t":54,"s":0.345},{"k":"km","arm":"Durvalumab","t":56.5,"s":0.33},{"k":"km","arm":"Durvalumab","t":57,"s":0.31},{"k":"km","arm":"Durvalumab","t":57.5,"s":0.297},{"k":"km","arm":"Durvalumab","t":67.5,"s":0.297},
{"k":"cen","arm":"Durvalumab","t":11.5,"s":0.84},{"k":"cen","arm":"Durvalumab","t":16,"s":0.75},{"k":"cen","arm":"Durvalumab","t":22.5,"s":0.588},{"k":"cen","arm":"Durvalumab","t":30,"s":0.515},{"k":"cen","arm":"Durvalumab","t":47,"s":0.42},{"k":"cen","arm":"Durvalumab","t":58,"s":0.297},{"k":"cen","arm":"Durvalumab","t":59,"s":0.297},{"k":"cen","arm":"Durvalumab","t":59.5,"s":0.297},{"k":"cen","arm":"Durvalumab","t":60,"s":0.297},{"k":"cen","arm":"Durvalumab","t":61.5,"s":0.297},{"k":"cen","arm":"Durvalumab","t":62.5,"s":0.297},{"k":"cen","arm":"Durvalumab","t":63,"s":0.297},{"k":"cen","arm":"Durvalumab","t":63.5,"s":0.297},{"k":"cen","arm":"Durvalumab","t":64.5,"s":0.297},{"k":"cen","arm":"Durvalumab","t":64.8,"s":0.297},{"k":"cen","arm":"Durvalumab","t":65,"s":0.297},{"k":"cen","arm":"Durvalumab","t":65.2,"s":0.297},{"k":"cen","arm":"Durvalumab","t":66,"s":0.297},{"k":"cen","arm":"Durvalumab","t":66.5,"s":0.297},{"k":"cen","arm":"Durvalumab","t":67.5,"s":0.297},
{"k":"km","arm":"Placebo","t":0,"s":1},{"k":"km","arm":"Placebo","t":1.2,"s":0.965},{"k":"km","arm":"Placebo","t":3.4,"s":0.93},{"k":"km","arm":"Placebo","t":3.9,"s":0.895},{"k":"km","arm":"Placebo","t":6.8,"s":0.86},{"k":"km","arm":"Placebo","t":7.3,"s":0.84},{"k":"km","arm":"Placebo","t":7.8,"s":0.82},{"k":"km","arm":"Placebo","t":8.1,"s":0.791},{"k":"km","arm":"Placebo","t":14.5,"s":0.775},{"k":"km","arm":"Placebo","t":15.5,"s":0.755},{"k":"km","arm":"Placebo","t":16,"s":0.735},{"k":"km","arm":"Placebo","t":17.5,"s":0.72},{"k":"km","arm":"Placebo","t":18,"s":0.7},{"k":"km","arm":"Placebo","t":19,"s":0.68},{"k":"km","arm":"Placebo","t":23.2,"s":0.664},{"k":"km","arm":"Placebo","t":26,"s":0.65},{"k":"km","arm":"Placebo","t":27,"s":0.63},{"k":"km","arm":"Placebo","t":30.5,"s":0.605},{"k":"km","arm":"Placebo","t":31.8,"s":0.57},{"k":"km","arm":"Placebo","t":35.8,"s":0.55},{"k":"km","arm":"Placebo","t":37.8,"s":0.515},{"k":"km","arm":"Placebo","t":43.5,"s":0.49},{"k":"km","arm":"Placebo","t":44,"s":0.47},{"k":"km","arm":"Placebo","t":45.5,"s":0.45},{"k":"km","arm":"Placebo","t":47,"s":0.43},{"k":"km","arm":"Placebo","t":47.8,"s":0.414},{"k":"km","arm":"Placebo","t":51.5,"s":0.39},{"k":"km","arm":"Placebo","t":54,"s":0.372},{"k":"km","arm":"Placebo","t":68,"s":0.28},{"k":"km","arm":"Placebo","t":70.5,"s":0.28},
{"k":"cen","arm":"Placebo","t":10,"s":0.791},{"k":"cen","arm":"Placebo","t":19.5,"s":0.68},{"k":"cen","arm":"Placebo","t":20,"s":0.68},{"k":"cen","arm":"Placebo","t":42.5,"s":0.515},{"k":"cen","arm":"Placebo","t":57.5,"s":0.372},{"k":"cen","arm":"Placebo","t":58.5,"s":0.372},{"k":"cen","arm":"Placebo","t":59.3,"s":0.372},{"k":"cen","arm":"Placebo","t":59.8,"s":0.372},{"k":"cen","arm":"Placebo","t":60.5,"s":0.372},{"k":"cen","arm":"Placebo","t":61.5,"s":0.372},{"k":"cen","arm":"Placebo","t":63,"s":0.372},{"k":"cen","arm":"Placebo","t":64.5,"s":0.372},{"k":"cen","arm":"Placebo","t":66,"s":0.372},{"k":"cen","arm":"Placebo","t":67.5,"s":0.372},{"k":"cen","arm":"Placebo","t":68.5,"s":0.28},{"k":"cen","arm":"Placebo","t":69.2,"s":0.28},{"k":"cen","arm":"Placebo","t":70,"s":0.28},{"k":"cen","arm":"Placebo","t":70.5,"s":0.28}
],
"E":[
{"k":"hr","panel":"E","hr":"HR (95% CI): 0.68 (0.50 to 0.93)"},
{"k":"tab","arm":"Durvalumab","ev":"102/174 (58.6)","med":"44.2 (32.6 to 52.1)"},
{"k":"tab","arm":"Placebo","ev":"64/88 (72.7)","med":"23.5 (16.2 to 29.3)"},
{"k":"lm","arm":"Durvalumab","m":12,"v":0.795,"ci":"(95% CI, 72.6 to 84.8)"},
{"k":"lm","arm":"Durvalumab","m":24,"v":0.635,"ci":"(55.8 to 70.3)"},
{"k":"lm","arm":"Durvalumab","m":36,"v":0.55,"ci":"(47.2 to 62.2)"},
{"k":"lm","arm":"Durvalumab","m":48,"v":0.476,"ci":"(39.8 to 54.9)"},
{"k":"lm","arm":"Durvalumab","m":60,"v":0.406,"ci":"(33.1 to 48.0)"},
{"k":"lm","arm":"Placebo","m":12,"v":0.716,"ci":"(60.9 to 79.8)"},
{"k":"lm","arm":"Placebo","m":24,"v":0.499,"ci":"(39.1 to 59.8)"},
{"k":"lm","arm":"Placebo","m":36,"v":0.348,"ci":"(25.0 to 44.8)"},
{"k":"lm","arm":"Placebo","m":48,"v":0.313,"ci":"(21.9 to 41.2)"},
{"k":"lm","arm":"Placebo","m":60,"v":0.276,"ci":"(18.6 to 37.3)"},
{"k":"risk","m":0,"durvalumab":174,"placebo":88},{"k":"risk","m":3,"durvalumab":168,"placebo":83},{"k":"risk","m":6,"durvalumab":154,"placebo":76},{"k":"risk","m":9,"durvalumab":147,"placebo":67},{"k":"risk","m":12,"durvalumab":135,"placebo":63},{"k":"risk","m":15,"durvalumab":128,"placebo":55},{"k":"risk","m":18,"durvalumab":122,"placebo":51},{"k":"risk","m":21,"durvalumab":113,"placebo":50},{"k":"risk","m":24,"durvalumab":106,"placebo":43},{"k":"risk","m":27,"durvalumab":104,"placebo":38},{"k":"risk","m":30,"durvalumab":98,"placebo":34},{"k":"risk","m":33,"durvalumab":94,"placebo":31},{"k":"risk","m":36,"durvalumab":90,"placebo":30},{"k":"risk","m":39,"durvalumab":86,"placebo":29},{"k":"risk","m":42,"durvalumab":84,"placebo":28},{"k":"risk","m":45,"durvalumab":79,"placebo":27},{"k":"risk","m":48,"durvalumab":76,"placebo":27},{"k":"risk","m":51,"durvalumab":71,"placebo":26},{"k":"risk","m":54,"durvalumab":66,"placebo":26},{"k":"risk","m":57,"durvalumab":60,"placebo":25},{"k":"risk","m":60,"durvalumab":42,"placebo":18},{"k":"risk","m":63,"durvalumab":28,"placebo":12},{"k":"risk","m":66,"durvalumab":8,"placebo":3},{"k":"risk","m":69,"durvalumab":4,"placebo":0},{"k":"risk","m":72,"durvalumab":1,"placebo":0},{"k":"risk","m":75,"durvalumab":0,"placebo":0},
{"k":"km","arm":"Durvalumab","t":0,"s":1},{"k":"km","arm":"Durvalumab","t":0.8,"s":0.99},{"k":"km","arm":"Durvalumab","t":2.3,"s":0.985},{"k":"km","arm":"Durvalumab","t":2.6,"s":0.97},{"k":"km","arm":"Durvalumab","t":3.2,"s":0.95},{"k":"km","arm":"Durvalumab","t":3.8,"s":0.94},{"k":"km","arm":"Durvalumab","t":4.2,"s":0.925},{"k":"km","arm":"Durvalumab","t":5,"s":0.915},{"k":"km","arm":"Durvalumab","t":6.3,"s":0.91},{"k":"km","arm":"Durvalumab","t":7,"s":0.9},{"k":"km","arm":"Durvalumab","t":7.5,"s":0.89},{"k":"km","arm":"Durvalumab","t":8.2,"s":0.875},{"k":"km","arm":"Durvalumab","t":9,"s":0.86},{"k":"km","arm":"Durvalumab","t":9.5,"s":0.84},{"k":"km","arm":"Durvalumab","t":10,"s":0.82},{"k":"km","arm":"Durvalumab","t":11,"s":0.8},{"k":"km","arm":"Durvalumab","t":11.8,"s":0.795},{"k":"km","arm":"Durvalumab","t":13,"s":0.785},{"k":"km","arm":"Durvalumab","t":14,"s":0.77},{"k":"km","arm":"Durvalumab","t":15,"s":0.755},{"k":"km","arm":"Durvalumab","t":16.3,"s":0.745},{"k":"km","arm":"Durvalumab","t":17.5,"s":0.73},{"k":"km","arm":"Durvalumab","t":19,"s":0.72},{"k":"km","arm":"Durvalumab","t":19.5,"s":0.705},{"k":"km","arm":"Durvalumab","t":20.2,"s":0.69},{"k":"km","arm":"Durvalumab","t":21.5,"s":0.675},{"k":"km","arm":"Durvalumab","t":22.5,"s":0.66},{"k":"km","arm":"Durvalumab","t":23,"s":0.645},{"k":"km","arm":"Durvalumab","t":23.8,"s":0.635},{"k":"km","arm":"Durvalumab","t":26.5,"s":0.628},{"k":"km","arm":"Durvalumab","t":27.5,"s":0.62},{"k":"km","arm":"Durvalumab","t":29,"s":0.61},{"k":"km","arm":"Durvalumab","t":30,"s":0.6},{"k":"km","arm":"Durvalumab","t":31,"s":0.588},{"k":"km","arm":"Durvalumab","t":32.5,"s":0.58},{"k":"km","arm":"Durvalumab","t":33.5,"s":0.565},{"k":"km","arm":"Durvalumab","t":35,"s":0.55},{"k":"km","arm":"Durvalumab","t":37,"s":0.535},{"k":"km","arm":"Durvalumab","t":39,"s":0.53},{"k":"km","arm":"Durvalumab","t":41,"s":0.522},{"k":"km","arm":"Durvalumab","t":43,"s":0.51},{"k":"km","arm":"Durvalumab","t":44.5,"s":0.5},{"k":"km","arm":"Durvalumab","t":46,"s":0.495},{"k":"km","arm":"Durvalumab","t":47,"s":0.476},{"k":"km","arm":"Durvalumab","t":49,"s":0.46},{"k":"km","arm":"Durvalumab","t":50,"s":0.455},{"k":"km","arm":"Durvalumab","t":51.5,"s":0.445},{"k":"km","arm":"Durvalumab","t":52.5,"s":0.435},{"k":"km","arm":"Durvalumab","t":53,"s":0.42},{"k":"km","arm":"Durvalumab","t":54,"s":0.406},{"k":"km","arm":"Durvalumab","t":62.5,"s":0.395},{"k":"km","arm":"Durvalumab","t":64.3,"s":0.38},{"k":"km","arm":"Durvalumab","t":64.8,"s":0.36},{"k":"km","arm":"Durvalumab","t":65.5,"s":0.345},{"k":"km","arm":"Durvalumab","t":65.8,"s":0.32},{"k":"km","arm":"Durvalumab","t":74.1,"s":0.32},
{"k":"cen","arm":"Durvalumab","t":0.6,"s":1},{"k":"cen","arm":"Durvalumab","t":1.2,"s":0.99},{"k":"cen","arm":"Durvalumab","t":4.3,"s":0.925},{"k":"cen","arm":"Durvalumab","t":20.5,"s":0.69},{"k":"cen","arm":"Durvalumab","t":28,"s":0.62},{"k":"cen","arm":"Durvalumab","t":31.5,"s":0.588},{"k":"cen","arm":"Durvalumab","t":40.5,"s":0.53},{"k":"cen","arm":"Durvalumab","t":43,"s":0.51},{"k":"cen","arm":"Durvalumab","t":56.5,"s":0.406},{"k":"cen","arm":"Durvalumab","t":57,"s":0.406},{"k":"cen","arm":"Durvalumab","t":57.2,"s":0.406},{"k":"cen","arm":"Durvalumab","t":57.5,"s":0.406},{"k":"cen","arm":"Durvalumab","t":58,"s":0.406},{"k":"cen","arm":"Durvalumab","t":58.5,"s":0.406},{"k":"cen","arm":"Durvalumab","t":59,"s":0.406},{"k":"cen","arm":"Durvalumab","t":59.5,"s":0.406},{"k":"cen","arm":"Durvalumab","t":60,"s":0.406},{"k":"cen","arm":"Durvalumab","t":60.5,"s":0.406},{"k":"cen","arm":"Durvalumab","t":61,"s":0.406},{"k":"cen","arm":"Durvalumab","t":61.5,"s":0.406},{"k":"cen","arm":"Durvalumab","t":62,"s":0.406},{"k":"cen","arm":"Durvalumab","t":63,"s":0.395},{"k":"cen","arm":"Durvalumab","t":63.5,"s":0.395},{"k":"cen","arm":"Durvalumab","t":64,"s":0.395},{"k":"cen","arm":"Durvalumab","t":66.5,"s":0.32},{"k":"cen","arm":"Durvalumab","t":67.5,"s":0.32},{"k":"cen","arm":"Durvalumab","t":68,"s":0.32},{"k":"cen","arm":"Durvalumab","t":68.5,"s":0.32},{"k":"cen","arm":"Durvalumab","t":69.5,"s":0.32},{"k":"cen","arm":"Durvalumab","t":70.5,"s":0.32},{"k":"cen","arm":"Durvalumab","t":71,"s":0.32},{"k":"cen","arm":"Durvalumab","t":74.1,"s":0.32},
{"k":"km","arm":"Placebo","t":0,"s":1},{"k":"km","arm":"Placebo","t":0.5,"s":0.98},{"k":"km","arm":"Placebo","t":2,"s":0.97},{"k":"km","arm":"Placebo","t":2.4,"s":0.955},{"k":"km","arm":"Placebo","t":3,"s":0.94},{"k":"km","arm":"Placebo","t":3.5,"s":0.925},{"k":"km","arm":"Placebo","t":4,"s":0.905},{"k":"km","arm":"Placebo","t":5,"s":0.89},{"k":"km","arm":"Placebo","t":6,"s":0.87},{"k":"km","arm":"Placebo","t":6.7,"s":0.85},{"k":"km","arm":"Placebo","t":7.5,"s":0.83},{"k":"km","arm":"Placebo","t":8.2,"s":0.8},{"k":"km","arm":"Placebo","t":8.7,"s":0.77},{"k":"km","arm":"Placebo","t":9.5,"s":0.76},{"k":"km","arm":"Placebo","t":10,"s":0.74},{"k":"km","arm":"Placebo","t":10.5,"s":0.725},{"k":"km","arm":"Placebo","t":11.8,"s":0.716},{"k":"km","arm":"Placebo","t":12.7,"s":0.7},{"k":"km","arm":"Placebo","t":13.5,"s":0.685},{"k":"km","arm":"Placebo","t":14,"s":0.67},{"k":"km","arm":"Placebo","t":14.5,"s":0.65},{"k":"km","arm":"Placebo","t":15,"s":0.625},{"k":"km","arm":"Placebo","t":16,"s":0.6},{"k":"km","arm":"Placebo","t":16.5,"s":0.58},{"k":"km","arm":"Placebo","t":20,"s":0.575},{"k":"km","arm":"Placebo","t":21,"s":0.56},{"k":"km","arm":"Placebo","t":21.5,"s":0.54},{"k":"km","arm":"Placebo","t":22.5,"s":0.52},{"k":"km","arm":"Placebo","t":23.5,"s":0.505},{"k":"km","arm":"Placebo","t":23.9,"s":0.499},{"k":"km","arm":"Placebo","t":25,"s":0.475},{"k":"km","arm":"Placebo","t":27.5,"s":0.47},{"k":"km","arm":"Placebo","t":29,"s":0.455},{"k":"km","arm":"Placebo","t":29.5,"s":0.43},{"k":"km","arm":"Placebo","t":30.5,"s":0.41},{"k":"km","arm":"Placebo","t":32,"s":0.395},{"k":"km","arm":"Placebo","t":34,"s":0.385},{"k":"km","arm":"Placebo","t":35,"s":0.37},{"k":"km","arm":"Placebo","t":35.5,"s":0.348},{"k":"km","arm":"Placebo","t":41.3,"s":0.32},{"k":"km","arm":"Placebo","t":43,"s":0.313},{"k":"km","arm":"Placebo","t":50.5,"s":0.3},{"k":"km","arm":"Placebo","t":56.5,"s":0.29},{"k":"km","arm":"Placebo","t":59.5,"s":0.276},{"k":"km","arm":"Placebo","t":62.5,"s":0.265},{"k":"km","arm":"Placebo","t":63.5,"s":0.25},{"k":"km","arm":"Placebo","t":68.5,"s":0.25},
{"k":"cen","arm":"Placebo","t":0.4,"s":1},{"k":"cen","arm":"Placebo","t":58,"s":0.29},{"k":"cen","arm":"Placebo","t":59,"s":0.29},{"k":"cen","arm":"Placebo","t":60.3,"s":0.276},{"k":"cen","arm":"Placebo","t":61.5,"s":0.276},{"k":"cen","arm":"Placebo","t":62.2,"s":0.276},{"k":"cen","arm":"Placebo","t":63,"s":0.265},{"k":"cen","arm":"Placebo","t":64,"s":0.25},{"k":"cen","arm":"Placebo","t":64.5,"s":0.25},{"k":"cen","arm":"Placebo","t":65,"s":0.25},{"k":"cen","arm":"Placebo","t":65.5,"s":0.25},{"k":"cen","arm":"Placebo","t":66,"s":0.25},{"k":"cen","arm":"Placebo","t":68.5,"s":0.25}
],
"F":[
{"k":"hr","panel":"F","hr":"HR (95% CI): 0.73 (0.46 to 1.14)"},
{"k":"tab","arm":"Durvalumab","ev":"52/97 (53.6)","med":"49.4 (34.3 to NE)"},
{"k":"tab","arm":"Placebo","ev":"29/47 (61.7)","med":"30.5 (17.7 to 68.1)"},
{"k":"lm","arm":"Durvalumab","m":12,"v":0.863,"ci":"(95% CI, 77.6 to 91.8)"},
{"k":"lm","arm":"Durvalumab","m":24,"v":0.724,"ci":"(62.2 to 80.3)"},
{"k":"lm","arm":"Durvalumab","m":36,"v":0.595,"ci":"(48.8 to 68.6)"},
{"k":"lm","arm":"Durvalumab","m":48,"v":0.519,"ci":"(41.3 to 61.5)"},
{"k":"lm","arm":"Durvalumab","m":60,"v":0.462,"ci":"(35.8 to 56.0)"},
{"k":"lm","arm":"Placebo","m":12,"v":0.805,"ci":"(65.9 to 89.4)"},
{"k":"lm","arm":"Placebo","m":24,"v":0.587,"ci":"(43.1 to 71.3)"},
{"k":"lm","arm":"Placebo","m":36,"v":0.474,"ci":"(32.4 to 60.9)"},
{"k":"lm","arm":"Placebo","m":48,"v":0.406,"ci":"(26.4 to 54.4)"},
{"k":"lm","arm":"Placebo","m":60,"v":0.382,"ci":"(24.3 to 52.1)"},
{"k":"risk","m":0,"durvalumab":97,"placebo":47},{"k":"risk","m":3,"durvalumab":96,"placebo":46},{"k":"risk","m":6,"durvalumab":89,"placebo":41},{"k":"risk","m":9,"durvalumab":85,"placebo":38},{"k":"risk","m":12,"durvalumab":81,"placebo":37},{"k":"risk","m":15,"durvalumab":79,"placebo":34},{"k":"risk","m":18,"durvalumab":78,"placebo":30},{"k":"risk","m":21,"durvalumab":73,"placebo":27},{"k":"risk","m":24,"durvalumab":67,"placebo":26},{"k":"risk","m":27,"durvalumab":65,"placebo":25},{"k":"risk","m":30,"durvalumab":61,"placebo":23},{"k":"risk","m":33,"durvalumab":59,"placebo":21},{"k":"risk","m":36,"durvalumab":55,"placebo":21},{"k":"risk","m":39,"durvalumab":52,"placebo":20},{"k":"risk","m":42,"durvalumab":52,"placebo":20},{"k":"risk","m":45,"durvalumab":50,"placebo":18},{"k":"risk","m":48,"durvalumab":48,"placebo":17},{"k":"risk","m":51,"durvalumab":46,"placebo":17},{"k":"risk","m":54,"durvalumab":46,"placebo":16},{"k":"risk","m":57,"durvalumab":44,"placebo":15},{"k":"risk","m":60,"durvalumab":34,"placebo":13},{"k":"risk","m":63,"durvalumab":24,"placebo":7},{"k":"risk","m":66,"durvalumab":14,"placebo":4},{"k":"risk","m":69,"durvalumab":7,"placebo":3},{"k":"risk","m":72,"durvalumab":1,"placebo":1},{"k":"risk","m":75,"durvalumab":0,"placebo":0},
{"k":"km","arm":"Durvalumab","t":0,"s":1},{"k":"km","arm":"Durvalumab","t":2.5,"s":0.99},{"k":"km","arm":"Durvalumab","t":3.5,"s":0.98},{"k":"km","arm":"Durvalumab","t":4.8,"s":0.955},{"k":"km","arm":"Durvalumab","t":5.5,"s":0.945},{"k":"km","arm":"Durvalumab","t":6,"s":0.935},{"k":"km","arm":"Durvalumab","t":7,"s":0.925},{"k":"km","arm":"Durvalumab","t":7.5,"s":0.91},{"k":"km","arm":"Durvalumab","t":8.5,"s":0.9},{"k":"km","arm":"Durvalumab","t":9.5,"s":0.89},{"k":"km","arm":"Durvalumab","t":10,"s":0.875},{"k":"km","arm":"Durvalumab","t":11,"s":0.865},{"k":"km","arm":"Durvalumab","t":11.8,"s":0.863},{"k":"km","arm":"Durvalumab","t":13,"s":0.855},{"k":"km","arm":"Durvalumab","t":14,"s":0.84},{"k":"km","arm":"Durvalumab","t":16,"s":0.825},{"k":"km","arm":"Durvalumab","t":18.5,"s":0.8},{"k":"km","arm":"Durvalumab","t":19,"s":0.78},{"k":"km","arm":"Durvalumab","t":21,"s":0.775},{"k":"km","arm":"Durvalumab","t":22,"s":0.755},{"k":"km","arm":"Durvalumab","t":22.5,"s":0.735},{"k":"km","arm":"Durvalumab","t":23.5,"s":0.724},{"k":"km","arm":"Durvalumab","t":25,"s":0.715},{"k":"km","arm":"Durvalumab","t":27,"s":0.7},{"k":"km","arm":"Durvalumab","t":28,"s":0.68},{"k":"km","arm":"Durvalumab","t":29,"s":0.67},{"k":"km","arm":"Durvalumab","t":30,"s":0.66},{"k":"km","arm":"Durvalumab","t":31,"s":0.65},{"k":"km","arm":"Durvalumab","t":32.5,"s":0.635},{"k":"km","arm":"Durvalumab","t":33.5,"s":0.62},{"k":"km","arm":"Durvalumab","t":34,"s":0.6},{"k":"km","arm":"Durvalumab","t":35.5,"s":0.595},{"k":"km","arm":"Durvalumab","t":37,"s":0.58},{"k":"km","arm":"Durvalumab","t":38,"s":0.57},{"k":"km","arm":"Durvalumab","t":39,"s":0.56},{"k":"km","arm":"Durvalumab","t":43,"s":0.55},{"k":"km","arm":"Durvalumab","t":44,"s":0.54},{"k":"km","arm":"Durvalumab","t":46,"s":0.535},{"k":"km","arm":"Durvalumab","t":47.5,"s":0.519},{"k":"km","arm":"Durvalumab","t":48.5,"s":0.51},{"k":"km","arm":"Durvalumab","t":49.5,"s":0.5},{"k":"km","arm":"Durvalumab","t":57.5,"s":0.485},{"k":"km","arm":"Durvalumab","t":58.5,"s":0.47},{"k":"km","arm":"Durvalumab","t":59.5,"s":0.462},{"k":"km","arm":"Durvalumab","t":63,"s":0.45},{"k":"km","arm":"Durvalumab","t":63.5,"s":0.44},{"k":"km","arm":"Durvalumab","t":65,"s":0.42},{"k":"km","arm":"Durvalumab","t":65.5,"s":0.414},{"k":"km","arm":"Durvalumab","t":74.3,"s":0.414},
{"k":"cen","arm":"Durvalumab","t":4,"s":0.98},{"k":"cen","arm":"Durvalumab","t":4.5,"s":0.98},{"k":"cen","arm":"Durvalumab","t":9.3,"s":0.9},{"k":"cen","arm":"Durvalumab","t":57,"s":0.5},{"k":"cen","arm":"Durvalumab","t":58.8,"s":0.47},{"k":"cen","arm":"Durvalumab","t":59.8,"s":0.462},{"k":"cen","arm":"Durvalumab","t":60.3,"s":0.462},{"k":"cen","arm":"Durvalumab","t":60.8,"s":0.462},{"k":"cen","arm":"Durvalumab","t":61.3,"s":0.462},{"k":"cen","arm":"Durvalumab","t":61.8,"s":0.462},{"k":"cen","arm":"Durvalumab","t":62.3,"s":0.462},{"k":"cen","arm":"Durvalumab","t":63.2,"s":0.45},{"k":"cen","arm":"Durvalumab","t":64,"s":0.44},{"k":"cen","arm":"Durvalumab","t":66,"s":0.414},{"k":"cen","arm":"Durvalumab","t":66.5,"s":0.414},{"k":"cen","arm":"Durvalumab","t":67,"s":0.414},{"k":"cen","arm":"Durvalumab","t":67.5,"s":0.414},{"k":"cen","arm":"Durvalumab","t":68,"s":0.414},{"k":"cen","arm":"Durvalumab","t":69,"s":0.414},{"k":"cen","arm":"Durvalumab","t":69.5,"s":0.414},{"k":"cen","arm":"Durvalumab","t":70,"s":0.414},{"k":"cen","arm":"Durvalumab","t":71,"s":0.414},{"k":"cen","arm":"Durvalumab","t":72,"s":0.414},{"k":"cen","arm":"Durvalumab","t":74.3,"s":0.414},
{"k":"km","arm":"Placebo","t":0,"s":1},{"k":"km","arm":"Placebo","t":2.6,"s":0.975},{"k":"km","arm":"Placebo","t":3.5,"s":0.96},{"k":"km","arm":"Placebo","t":4.5,"s":0.935},{"k":"km","arm":"Placebo","t":5,"s":0.91},{"k":"km","arm":"Placebo","t":5.5,"s":0.89},{"k":"km","arm":"Placebo","t":6.5,"s":0.87},{"k":"km","arm":"Placebo","t":8.5,"s":0.85},{"k":"km","arm":"Placebo","t":9,"s":0.83},{"k":"km","arm":"Placebo","t":9.5,"s":0.805},{"k":"km","arm":"Placebo","t":14.5,"s":0.785},{"k":"km","arm":"Placebo","t":15,"s":0.76},{"k":"km","arm":"Placebo","t":15.5,"s":0.735},{"k":"km","arm":"Placebo","t":16,"s":0.72},{"k":"km","arm":"Placebo","t":17.5,"s":0.7},{"k":"km","arm":"Placebo","t":18,"s":0.67},{"k":"km","arm":"Placebo","t":19,"s":0.66},{"k":"km","arm":"Placebo","t":20,"s":0.64},{"k":"km","arm":"Placebo","t":20.5,"s":0.61},{"k":"km","arm":"Placebo","t":21.5,"s":0.587},{"k":"km","arm":"Placebo","t":26.5,"s":0.565},{"k":"km","arm":"Placebo","t":28,"s":0.555},{"k":"km","arm":"Placebo","t":28.5,"s":0.54},{"k":"km","arm":"Placebo","t":30.5,"s":0.51},{"k":"km","arm":"Placebo","t":31,"s":0.49},{"k":"km","arm":"Placebo","t":31.5,"s":0.474},{"k":"km","arm":"Placebo","t":37.5,"s":0.45},{"k":"km","arm":"Placebo","t":44.5,"s":0.43},{"k":"km","arm":"Placebo","t":45,"s":0.406},{"k":"km","arm":"Placebo","t":53.8,"s":0.382},{"k":"km","arm":"Placebo","t":68.5,"s":0.28},{"k":"km","arm":"Placebo","t":74.5,"s":0.28},
{"k":"cen","arm":"Placebo","t":20.8,"s":0.61},{"k":"cen","arm":"Placebo","t":45,"s":0.406},{"k":"cen","arm":"Placebo","t":57,"s":0.382},{"k":"cen","arm":"Placebo","t":58.5,"s":0.382},{"k":"cen","arm":"Placebo","t":60,"s":0.382},{"k":"cen","arm":"Placebo","t":60.7,"s":0.382},{"k":"cen","arm":"Placebo","t":61,"s":0.382},{"k":"cen","arm":"Placebo","t":61.5,"s":0.382},{"k":"cen","arm":"Placebo","t":63,"s":0.382},{"k":"cen","arm":"Placebo","t":64.5,"s":0.382},{"k":"cen","arm":"Placebo","t":65.5,"s":0.382},{"k":"cen","arm":"Placebo","t":71,"s":0.28},{"k":"cen","arm":"Placebo","t":71.5,"s":0.28},{"k":"cen","arm":"Placebo","t":74.5,"s":0.28}
]
},
"vconcat":[
{"width":514,"height":166,"data":{"name":"A"},"layer":[
{"transform":[{"filter":"datum.k=='km'"}],"mark":{"type":"line","interpolate":"step-after","strokeWidth":1.4},"encoding":{"x":{"field":"t","type":"quantitative","scale":{"domain":[0,75.6],"nice":false,"zero":false},"axis":{"values":[0,1,3,6,9,12,15,18,21,24,27,30,33,36,39,42,45,48,51,54,57,60,63,66,69,72,75],"tickCount":40,"title":"Time Since Random Assignment (months)","labelOverlap":false,"labelFlush":false}},"y":{"field":"s","type":"quantitative","scale":{"domain":[0,1],"nice":false,"zero":false},"axis":{"values":[0,0.1,0.2,0.3,0.4,0.5,0.6,0.7,0.8,0.9,1],"tickCount":20,"format":".1f","title":"OS (probability)","titlePadding":9,"labelOverlap":false,"labelFlush":false}},"color":{"field":"arm","type":"nominal","scale":{"domain":["Durvalumab","Placebo"],"range":["#3d7fc1","#b22a3c"]},"legend":null}}},
{"transform":[{"filter":"datum.k=='cen'"}],"mark":{"type":"tick","orient":"vertical","size":7,"thickness":1},"encoding":{"x":{"field":"t","type":"quantitative"},"y":{"field":"s","type":"quantitative"},"color":{"field":"arm","type":"nominal"}}},
{"transform":[{"filter":"datum.k=='lm'"}],"mark":{"type":"rule","strokeDash":[4,3],"color":"#222","strokeWidth":1.1},"encoding":{"x":{"field":"m","type":"quantitative"},"y":{"aggregate":"max","field":"v","type":"quantitative"},"y2":{"datum":0}}},
{"transform":[{"filter":"datum.k=='lm'"},{"joinaggregate":[{"op":"max","field":"v","as":"vmax"}],"groupby":["m"]}],"encoding":{"x":{"field":"m","type":"quantitative"},"y":{"field":"v","type":"quantitative"},"color":{"field":"arm","type":"nominal"}},"layer":[
 {"transform":[{"filter":"datum.v>=datum.vmax"}],"mark":{"type":"text","align":"left","dx":-11,"dy":-22,"fontWeight":"bold"},"encoding":{"text":{"field":"v","type":"quantitative","format":".1%"}}},
 {"transform":[{"filter":"datum.v>=datum.vmax"}],"mark":{"type":"text","align":"left","dx":-11,"dy":-13},"encoding":{"text":{"field":"ci"}}},
 {"transform":[{"filter":"datum.v<datum.vmax"}],"mark":{"type":"text","align":"left","dx":-11,"dy":19,"fontWeight":"bold"},"encoding":{"text":{"field":"v","type":"quantitative","format":".1%"}}},
 {"transform":[{"filter":"datum.v<datum.vmax"}],"mark":{"type":"text","align":"left","dx":-11,"dy":28},"encoding":{"text":{"field":"ci"}}}
]},
{"transform":[{"filter":"datum.k=='risk'"}],"encoding":{"x":{"field":"m","type":"quantitative"}},"layer":[
 {"mark":{"type":"text","fontSize":8.5},"encoding":{"y":{"datum":-0.365},"text":{"field":"durvalumab","type":"quantitative"},"color":{"datum":"Durvalumab"}}},
 {"mark":{"type":"text","fontSize":8.5},"encoding":{"y":{"datum":-0.44},"text":{"field":"placebo","type":"quantitative"},"color":{"datum":"Placebo"}}}
]},
{"transform":[{"filter":"datum.k=='hr'"}],"layer":[
 {"mark":{"type":"text","align":"left","fontSize":14,"fontWeight":"bold","color":"#111"},"encoding":{"x":{"datum":-8.1},"y":{"datum":1.13},"text":{"field":"panel"}}},
 {"mark":{"type":"text","align":"left","fontSize":8.5,"color":"#222"},"encoding":{"x":{"datum":-8.24},"y":{"datum":-0.29},"text":{"value":"No. at risk:"}}},
 {"mark":{"type":"text","align":"left","fontSize":8.5},"encoding":{"x":{"datum":-8.24},"y":{"datum":-0.365},"text":{"value":"Durvalumab"},"color":{"datum":"Durvalumab"}}},
 {"mark":{"type":"text","align":"left","fontSize":8.5},"encoding":{"x":{"datum":-8.24},"y":{"datum":-0.44},"text":{"value":"Placebo"},"color":{"datum":"Placebo"}}},
 {"mark":{"type":"text","align":"left","fontWeight":"bold","color":"#222"},"encoding":{"x":{"datum":50.1},"y":{"datum":1.048},"text":{"value":"Arm"}}},
 {"mark":{"type":"text","align":"center","fontWeight":"bold","lineHeight":10,"color":"#222"},"encoding":{"x":{"datum":62.9},"y":{"datum":1.078},"text":{"value":["No. of Events/","Total No. of Patients (%)"]}}},
 {"mark":{"type":"text","align":"center","fontWeight":"bold","lineHeight":10,"color":"#222"},"encoding":{"x":{"datum":75.9},"y":{"datum":1.078},"text":{"value":["Median OS","(95% CI), Months"]}}},
 {"mark":{"type":"rule","color":"#444","strokeWidth":1.5},"encoding":{"x":{"datum":49.7},"x2":{"datum":81},"y":{"datum":1}}},
 {"mark":{"type":"rule","color":"#444","strokeWidth":1.5},"encoding":{"x":{"datum":49.7},"x2":{"datum":81},"y":{"datum":0.826}}},
 {"mark":{"type":"text","align":"right","fontWeight":"bold","color":"#222"},"encoding":{"x":{"datum":84.1},"y":{"datum":0.778},"text":{"field":"hr"}}}
]},
{"transform":[{"filter":"datum.k=='tab' && datum.arm=='Durvalumab'"}],"encoding":{"y":{"datum":0.952}},"layer":[
 {"mark":{"type":"text","align":"left","fontSize":8.3},"encoding":{"x":{"datum":49.7},"text":{"field":"arm"},"color":{"field":"arm","type":"nominal"}}},
 {"mark":{"type":"text","align":"center","color":"#222"},"encoding":{"x":{"datum":62.9},"text":{"field":"ev"}}},
 {"mark":{"type":"text","align":"center","color":"#222"},"encoding":{"x":{"datum":75.9},"text":{"field":"med"}}}
]},
{"transform":[{"filter":"datum.k=='tab' && datum.arm=='Placebo'"}],"encoding":{"y":{"datum":0.88}},"layer":[
 {"mark":{"type":"text","align":"left","fontSize":8.3},"encoding":{"x":{"datum":49.7},"text":{"field":"arm"},"color":{"field":"arm","type":"nominal"}}},
 {"mark":{"type":"text","align":"center","color":"#222"},"encoding":{"x":{"datum":62.9},"text":{"field":"ev"}}},
 {"mark":{"type":"text","align":"center","color":"#222"},"encoding":{"x":{"datum":75.9},"text":{"field":"med"}}}
]}
]},
{"width":514,"height":166,"data":{"name":"B"},"layer":[
{"transform":[{"filter":"datum.k=='km'"}],"mark":{"type":"line","interpolate":"step-after","strokeWidth":1.4},"encoding":{"x":{"field":"t","type":"quantitative","scale":{"domain":[0,75.6],"nice":false,"zero":false},"axis":{"values":[0,1,3,6,9,12,15,18,21,24,27,30,33,36,39,42,45,48,51,54,57,60,63,66,69,72,75],"tickCount":40,"title":"Time Since Random Assignment (months)","labelOverlap":false,"labelFlush":false}},"y":{"field":"s","type":"quantitative","scale":{"domain":[0,1],"nice":false,"zero":false},"axis":{"values":[0,0.1,0.2,0.3,0.4,0.5,0.6,0.7,0.8,0.9,1],"tickCount":20,"format":".1f","title":"OS (probability)","titlePadding":9,"labelOverlap":false,"labelFlush":false}},"color":{"field":"arm","type":"nominal","scale":{"domain":["Durvalumab","Placebo"],"range":["#3d7fc1","#b22a3c"]},"legend":null}}},
{"transform":[{"filter":"datum.k=='cen'"}],"mark":{"type":"tick","orient":"vertical","size":7,"thickness":1},"encoding":{"x":{"field":"t","type":"quantitative"},"y":{"field":"s","type":"quantitative"},"color":{"field":"arm","type":"nominal"}}},
{"transform":[{"filter":"datum.k=='lm'"}],"mark":{"type":"rule","strokeDash":[4,3],"color":"#222","strokeWidth":1.1},"encoding":{"x":{"field":"m","type":"quantitative"},"y":{"aggregate":"max","field":"v","type":"quantitative"},"y2":{"datum":0}}},
{"transform":[{"filter":"datum.k=='lm'"},{"joinaggregate":[{"op":"max","field":"v","as":"vmax"}],"groupby":["m"]}],"encoding":{"x":{"field":"m","type":"quantitative"},"y":{"field":"v","type":"quantitative"},"color":{"field":"arm","type":"nominal"}},"layer":[
 {"transform":[{"filter":"datum.v>=datum.vmax"}],"mark":{"type":"text","align":"left","dx":-11,"dy":-22,"fontWeight":"bold"},"encoding":{"text":{"field":"v","type":"quantitative","format":".1%"}}},
 {"transform":[{"filter":"datum.v>=datum.vmax"}],"mark":{"type":"text","align":"left","dx":-11,"dy":-13},"encoding":{"text":{"field":"ci"}}},
 {"transform":[{"filter":"datum.v<datum.vmax"}],"mark":{"type":"text","align":"left","dx":-11,"dy":19,"fontWeight":"bold"},"encoding":{"text":{"field":"v","type":"quantitative","format":".1%"}}},
 {"transform":[{"filter":"datum.v<datum.vmax"}],"mark":{"type":"text","align":"left","dx":-11,"dy":28},"encoding":{"text":{"field":"ci"}}}
]},
{"transform":[{"filter":"datum.k=='risk'"}],"encoding":{"x":{"field":"m","type":"quantitative"}},"layer":[
 {"mark":{"type":"text","fontSize":8.5},"encoding":{"y":{"datum":-0.365},"text":{"field":"durvalumab","type":"quantitative"},"color":{"datum":"Durvalumab"}}},
 {"mark":{"type":"text","fontSize":8.5},"encoding":{"y":{"datum":-0.44},"text":{"field":"placebo","type":"quantitative"},"color":{"datum":"Placebo"}}}
]},
{"transform":[{"filter":"datum.k=='hr'"}],"layer":[
 {"mark":{"type":"text","align":"left","fontSize":14,"fontWeight":"bold","color":"#111"},"encoding":{"x":{"datum":-8.1},"y":{"datum":1.13},"text":{"field":"panel"}}},
 {"mark":{"type":"text","align":"left","fontSize":8.5,"color":"#222"},"encoding":{"x":{"datum":-8.24},"y":{"datum":-0.29},"text":{"value":"No. at risk:"}}},
 {"mark":{"type":"text","align":"left","fontSize":8.5},"encoding":{"x":{"datum":-8.24},"y":{"datum":-0.365},"text":{"value":"Durvalumab"},"color":{"datum":"Durvalumab"}}},
 {"mark":{"type":"text","align":"left","fontSize":8.5},"encoding":{"x":{"datum":-8.24},"y":{"datum":-0.44},"text":{"value":"Placebo"},"color":{"datum":"Placebo"}}},
 {"mark":{"type":"text","align":"left","fontWeight":"bold","color":"#222"},"encoding":{"x":{"datum":46.9},"y":{"datum":1.076},"text":{"value":"Arm"}}},
 {"mark":{"type":"text","align":"center","fontWeight":"bold","lineHeight":10,"color":"#222"},"encoding":{"x":{"datum":61.1},"y":{"datum":1.105},"text":{"value":["No. of Events/","Total No. of Patients (%)"]}}},
 {"mark":{"type":"text","align":"center","fontWeight":"bold","lineHeight":10,"color":"#222"},"encoding":{"x":{"datum":75.7},"y":{"datum":1.105},"text":{"value":["Median OS","(95% CI), Months"]}}},
 {"mark":{"type":"rule","color":"#444","strokeWidth":1.5},"encoding":{"x":{"datum":46.3},"x2":{"datum":83.1},"y":{"datum":1.03}}},
 {"mark":{"type":"rule","color":"#444","strokeWidth":1.5},"encoding":{"x":{"datum":46.3},"x2":{"datum":83.1},"y":{"datum":0.855}}},
 {"mark":{"type":"text","align":"right","fontWeight":"bold","color":"#222"},"encoding":{"x":{"datum":84.1},"y":{"datum":0.807},"text":{"field":"hr"}}}
]},
{"transform":[{"filter":"datum.k=='tab' && datum.arm=='Durvalumab'"}],"encoding":{"y":{"datum":0.98}},"layer":[
 {"mark":{"type":"text","align":"left","fontSize":8.3},"encoding":{"x":{"datum":46.4},"text":{"field":"arm"},"color":{"field":"arm","type":"nominal"}}},
 {"mark":{"type":"text","align":"center","color":"#222"},"encoding":{"x":{"datum":61.1},"text":{"field":"ev"}}},
 {"mark":{"type":"text","align":"center","color":"#222"},"encoding":{"x":{"datum":75.7},"text":{"field":"med"}}}
]},
{"transform":[{"filter":"datum.k=='tab' && datum.arm=='Placebo'"}],"encoding":{"y":{"datum":0.904}},"layer":[
 {"mark":{"type":"text","align":"left","fontSize":8.3},"encoding":{"x":{"datum":46.4},"text":{"field":"arm"},"color":{"field":"arm","type":"nominal"}}},
 {"mark":{"type":"text","align":"center","color":"#222"},"encoding":{"x":{"datum":61.1},"text":{"field":"ev"}}},
 {"mark":{"type":"text","align":"center","color":"#222"},"encoding":{"x":{"datum":75.7},"text":{"field":"med"}}}
]}
]},
{"width":514,"height":166,"data":{"name":"C"},"layer":[
{"transform":[{"filter":"datum.k=='km'"}],"mark":{"type":"line","interpolate":"step-after","strokeWidth":1.4},"encoding":{"x":{"field":"t","type":"quantitative","scale":{"domain":[0,75.6],"nice":false,"zero":false},"axis":{"values":[0,1,3,6,9,12,15,18,21,24,27,30,33,36,39,42,45,48,51,54,57,60,63,66,69,72,75],"tickCount":40,"title":"Time Since Random Assignment (months)","labelOverlap":false,"labelFlush":false}},"y":{"field":"s","type":"quantitative","scale":{"domain":[0,1],"nice":false,"zero":false},"axis":{"values":[0,0.1,0.2,0.3,0.4,0.5,0.6,0.7,0.8,0.9,1],"tickCount":20,"format":".1f","title":"OS (probability)","titlePadding":9,"labelOverlap":false,"labelFlush":false}},"color":{"field":"arm","type":"nominal","scale":{"domain":["Durvalumab","Placebo"],"range":["#3d7fc1","#b22a3c"]},"legend":null}}},
{"transform":[{"filter":"datum.k=='cen'"}],"mark":{"type":"tick","orient":"vertical","size":7,"thickness":1},"encoding":{"x":{"field":"t","type":"quantitative"},"y":{"field":"s","type":"quantitative"},"color":{"field":"arm","type":"nominal"}}},
{"transform":[{"filter":"datum.k=='lm'"}],"mark":{"type":"rule","strokeDash":[4,3],"color":"#222","strokeWidth":1.1},"encoding":{"x":{"field":"m","type":"quantitative"},"y":{"aggregate":"max","field":"v","type":"quantitative"},"y2":{"datum":0}}},
{"transform":[{"filter":"datum.k=='lm'"},{"joinaggregate":[{"op":"max","field":"v","as":"vmax"}],"groupby":["m"]}],"encoding":{"x":{"field":"m","type":"quantitative"},"y":{"field":"v","type":"quantitative"},"color":{"field":"arm","type":"nominal"}},"layer":[
 {"transform":[{"filter":"datum.v>=datum.vmax"}],"mark":{"type":"text","align":"left","dx":-11,"dy":-22,"fontWeight":"bold"},"encoding":{"text":{"field":"v","type":"quantitative","format":".1%"}}},
 {"transform":[{"filter":"datum.v>=datum.vmax"}],"mark":{"type":"text","align":"left","dx":-11,"dy":-13},"encoding":{"text":{"field":"ci"}}},
 {"transform":[{"filter":"datum.v<datum.vmax"}],"mark":{"type":"text","align":"left","dx":-11,"dy":19,"fontWeight":"bold"},"encoding":{"text":{"field":"v","type":"quantitative","format":".1%"}}},
 {"transform":[{"filter":"datum.v<datum.vmax"}],"mark":{"type":"text","align":"left","dx":-11,"dy":28},"encoding":{"text":{"field":"ci"}}}
]},
{"transform":[{"filter":"datum.k=='risk'"}],"encoding":{"x":{"field":"m","type":"quantitative"}},"layer":[
 {"mark":{"type":"text","fontSize":8.5},"encoding":{"y":{"datum":-0.365},"text":{"field":"durvalumab","type":"quantitative"},"color":{"datum":"Durvalumab"}}},
 {"mark":{"type":"text","fontSize":8.5},"encoding":{"y":{"datum":-0.44},"text":{"field":"placebo","type":"quantitative"},"color":{"datum":"Placebo"}}}
]},
{"transform":[{"filter":"datum.k=='hr'"}],"layer":[
 {"mark":{"type":"text","align":"left","fontSize":14,"fontWeight":"bold","color":"#111"},"encoding":{"x":{"datum":-8.1},"y":{"datum":1.13},"text":{"field":"panel"}}},
 {"mark":{"type":"text","align":"left","fontSize":8.5,"color":"#222"},"encoding":{"x":{"datum":-8.24},"y":{"datum":-0.29},"text":{"value":"No. at risk:"}}},
 {"mark":{"type":"text","align":"left","fontSize":8.5},"encoding":{"x":{"datum":-8.24},"y":{"datum":-0.365},"text":{"value":"Durvalumab"},"color":{"datum":"Durvalumab"}}},
 {"mark":{"type":"text","align":"left","fontSize":8.5},"encoding":{"x":{"datum":-8.24},"y":{"datum":-0.44},"text":{"value":"Placebo"},"color":{"datum":"Placebo"}}},
 {"mark":{"type":"text","align":"left","fontWeight":"bold","color":"#222"},"encoding":{"x":{"datum":49.5},"y":{"datum":1.081},"text":{"value":"Arm"}}},
 {"mark":{"type":"text","align":"center","fontWeight":"bold","lineHeight":10,"color":"#222"},"encoding":{"x":{"datum":62.9},"y":{"datum":1.11},"text":{"value":["No. of Events/","Total No. of Patients (%)"]}}},
 {"mark":{"type":"text","align":"center","fontWeight":"bold","lineHeight":10,"color":"#222"},"encoding":{"x":{"datum":75.8},"y":{"datum":1.11},"text":{"value":["Median OS","(95% CI), Months"]}}},
 {"mark":{"type":"rule","color":"#444","strokeWidth":1.5},"encoding":{"x":{"datum":49},"x2":{"datum":83.1},"y":{"datum":1.03}}},
 {"mark":{"type":"rule","color":"#444","strokeWidth":1.5},"encoding":{"x":{"datum":49},"x2":{"datum":83.1},"y":{"datum":0.855}}},
 {"mark":{"type":"text","align":"right","fontWeight":"bold","color":"#222"},"encoding":{"x":{"datum":84.3},"y":{"datum":0.808},"text":{"field":"hr"}}}
]},
{"transform":[{"filter":"datum.k=='tab' && datum.arm=='Durvalumab'"}],"encoding":{"y":{"datum":0.982}},"layer":[
 {"mark":{"type":"text","align":"left","fontSize":8.3},"encoding":{"x":{"datum":49},"text":{"field":"arm"},"color":{"field":"arm","type":"nominal"}}},
 {"mark":{"type":"text","align":"center","color":"#222"},"encoding":{"x":{"datum":62.9},"text":{"field":"ev"}}},
 {"mark":{"type":"text","align":"center","color":"#222"},"encoding":{"x":{"datum":75.8},"text":{"field":"med"}}}
]},
{"transform":[{"filter":"datum.k=='tab' && datum.arm=='Placebo'"}],"encoding":{"y":{"datum":0.907}},"layer":[
 {"mark":{"type":"text","align":"left","fontSize":8.3},"encoding":{"x":{"datum":49},"text":{"field":"arm"},"color":{"field":"arm","type":"nominal"}}},
 {"mark":{"type":"text","align":"center","color":"#222"},"encoding":{"x":{"datum":62.9},"text":{"field":"ev"}}},
 {"mark":{"type":"text","align":"center","color":"#222"},"encoding":{"x":{"datum":75.8},"text":{"field":"med"}}}
]}
]},
{"width":535,"height":172,"data":{"name":"D"},"layer":[
{"transform":[{"filter":"datum.k=='km'"}],"mark":{"type":"line","interpolate":"step-after","strokeWidth":1.4},"encoding":{"x":{"field":"t","type":"quantitative","scale":{"domain":[0,75.6],"nice":false,"zero":false},"axis":{"values":[0,1,3,6,9,12,15,18,21,24,27,30,33,36,39,42,45,48,51,54,57,60,63,66,69,72,75],"tickCount":40,"title":"Time Since Random Assignment (months)","labelOverlap":false,"labelFlush":false}},"y":{"field":"s","type":"quantitative","scale":{"domain":[0,1],"nice":false,"zero":false},"axis":{"values":[0,0.1,0.2,0.3,0.4,0.5,0.6,0.7,0.8,0.9,1],"tickCount":20,"format":".1f","title":"OS (probability)","titlePadding":9,"labelOverlap":false,"labelFlush":false}},"color":{"field":"arm","type":"nominal","scale":{"domain":["Durvalumab","Placebo"],"range":["#3d7fc1","#b22a3c"]},"legend":null}}},
{"transform":[{"filter":"datum.k=='cen'"}],"mark":{"type":"tick","orient":"vertical","size":7,"thickness":1},"encoding":{"x":{"field":"t","type":"quantitative"},"y":{"field":"s","type":"quantitative"},"color":{"field":"arm","type":"nominal"}}},
{"transform":[{"filter":"datum.k=='lm'"}],"mark":{"type":"rule","strokeDash":[4,3],"color":"#222","strokeWidth":1.1},"encoding":{"x":{"field":"m","type":"quantitative"},"y":{"aggregate":"max","field":"v","type":"quantitative"},"y2":{"datum":0}}},
{"transform":[{"filter":"datum.k=='lm'"},{"joinaggregate":[{"op":"max","field":"v","as":"vmax"}],"groupby":["m"]}],"encoding":{"x":{"field":"m","type":"quantitative"},"y":{"field":"v","type":"quantitative"},"color":{"field":"arm","type":"nominal"}},"layer":[
 {"transform":[{"filter":"datum.v>=datum.vmax"}],"mark":{"type":"text","align":"left","dx":-11,"dy":-22,"fontWeight":"bold"},"encoding":{"text":{"field":"v","type":"quantitative","format":".1%"}}},
 {"transform":[{"filter":"datum.v>=datum.vmax"}],"mark":{"type":"text","align":"left","dx":-11,"dy":-13},"encoding":{"text":{"field":"ci"}}},
 {"transform":[{"filter":"datum.v<datum.vmax"}],"mark":{"type":"text","align":"left","dx":-11,"dy":19,"fontWeight":"bold"},"encoding":{"text":{"field":"v","type":"quantitative","format":".1%"}}},
 {"transform":[{"filter":"datum.v<datum.vmax"}],"mark":{"type":"text","align":"left","dx":-11,"dy":28},"encoding":{"text":{"field":"ci"}}}
]},
{"transform":[{"filter":"datum.k=='risk'"}],"encoding":{"x":{"field":"m","type":"quantitative"}},"layer":[
 {"mark":{"type":"text","fontSize":8.5},"encoding":{"y":{"datum":-0.365},"text":{"field":"durvalumab","type":"quantitative"},"color":{"datum":"Durvalumab"}}},
 {"mark":{"type":"text","fontSize":8.5},"encoding":{"y":{"datum":-0.44},"text":{"field":"placebo","type":"quantitative"},"color":{"datum":"Placebo"}}}
]},
{"transform":[{"filter":"datum.k=='hr'"}],"layer":[
 {"mark":{"type":"text","align":"left","fontSize":14,"fontWeight":"bold","color":"#111"},"encoding":{"x":{"datum":-7.8},"y":{"datum":1.07},"text":{"field":"panel"}}},
 {"mark":{"type":"text","align":"left","fontSize":8.5,"color":"#222"},"encoding":{"x":{"datum":-7.9},"y":{"datum":-0.29},"text":{"value":"No. at risk:"}}},
 {"mark":{"type":"text","align":"left","fontSize":8.5},"encoding":{"x":{"datum":-7.9},"y":{"datum":-0.365},"text":{"value":"Durvalumab"},"color":{"datum":"Durvalumab"}}},
 {"mark":{"type":"text","align":"left","fontSize":8.5},"encoding":{"x":{"datum":-7.9},"y":{"datum":-0.44},"text":{"value":"Placebo"},"color":{"datum":"Placebo"}}},
 {"mark":{"type":"text","align":"left","fontWeight":"bold","color":"#222"},"encoding":{"x":{"datum":45.1},"y":{"datum":0.967},"text":{"value":"Arm"}}},
 {"mark":{"type":"text","align":"center","fontWeight":"bold","lineHeight":10,"color":"#222"},"encoding":{"x":{"datum":59.3},"y":{"datum":0.995},"text":{"value":["No. of Events/","Total No. of Patients (%)"]}}},
 {"mark":{"type":"text","align":"center","fontWeight":"bold","lineHeight":10,"color":"#222"},"encoding":{"x":{"datum":72.2},"y":{"datum":0.995},"text":{"value":["Median OS","(95% CI), Months"]}}},
 {"mark":{"type":"rule","color":"#444","strokeWidth":1.5},"encoding":{"x":{"datum":44.7},"x2":{"datum":78.1},"y":{"datum":0.917}}},
 {"mark":{"type":"rule","color":"#444","strokeWidth":1.5},"encoding":{"x":{"datum":44.7},"x2":{"datum":78.1},"y":{"datum":0.744}}},
 {"mark":{"type":"text","align":"right","fontWeight":"bold","color":"#222"},"encoding":{"x":{"datum":78.1},"y":{"datum":0.693},"text":{"field":"hr"}}}
]},
{"transform":[{"filter":"datum.k=='tab' && datum.arm=='Durvalumab'"}],"encoding":{"y":{"datum":0.868}},"layer":[
 {"mark":{"type":"text","align":"left","fontSize":8.3},"encoding":{"x":{"datum":44.7},"text":{"field":"arm"},"color":{"field":"arm","type":"nominal"}}},
 {"mark":{"type":"text","align":"center","color":"#222"},"encoding":{"x":{"datum":59.3},"text":{"field":"ev"}}},
 {"mark":{"type":"text","align":"center","color":"#222"},"encoding":{"x":{"datum":72.2},"text":{"field":"med"}}}
]},
{"transform":[{"filter":"datum.k=='tab' && datum.arm=='Placebo'"}],"encoding":{"y":{"datum":0.792}},"layer":[
 {"mark":{"type":"text","align":"left","fontSize":8.3},"encoding":{"x":{"datum":44.7},"text":{"field":"arm"},"color":{"field":"arm","type":"nominal"}}},
 {"mark":{"type":"text","align":"center","color":"#222"},"encoding":{"x":{"datum":59.3},"text":{"field":"ev"}}},
 {"mark":{"type":"text","align":"center","color":"#222"},"encoding":{"x":{"datum":72.2},"text":{"field":"med"}}}
]}
]},
{"width":535,"height":172,"data":{"name":"E"},"layer":[
{"transform":[{"filter":"datum.k=='km'"}],"mark":{"type":"line","interpolate":"step-after","strokeWidth":1.4},"encoding":{"x":{"field":"t","type":"quantitative","scale":{"domain":[0,75.6],"nice":false,"zero":false},"axis":{"values":[0,1,3,6,9,12,15,18,21,24,27,30,33,36,39,42,45,48,51,54,57,60,63,66,69,72,75],"tickCount":40,"title":"Time Since Random Assignment (months)","labelOverlap":false,"labelFlush":false}},"y":{"field":"s","type":"quantitative","scale":{"domain":[0,1],"nice":false,"zero":false},"axis":{"values":[0,0.1,0.2,0.3,0.4,0.5,0.6,0.7,0.8,0.9,1],"tickCount":20,"format":".1f","title":"OS (probability)","titlePadding":9,"labelOverlap":false,"labelFlush":false}},"color":{"field":"arm","type":"nominal","scale":{"domain":["Durvalumab","Placebo"],"range":["#3d7fc1","#b22a3c"]},"legend":null}}},
{"transform":[{"filter":"datum.k=='cen'"}],"mark":{"type":"tick","orient":"vertical","size":7,"thickness":1},"encoding":{"x":{"field":"t","type":"quantitative"},"y":{"field":"s","type":"quantitative"},"color":{"field":"arm","type":"nominal"}}},
{"transform":[{"filter":"datum.k=='lm'"}],"mark":{"type":"rule","strokeDash":[4,3],"color":"#222","strokeWidth":1.1},"encoding":{"x":{"field":"m","type":"quantitative"},"y":{"aggregate":"max","field":"v","type":"quantitative"},"y2":{"datum":0}}},
{"transform":[{"filter":"datum.k=='lm'"},{"joinaggregate":[{"op":"max","field":"v","as":"vmax"}],"groupby":["m"]}],"encoding":{"x":{"field":"m","type":"quantitative"},"y":{"field":"v","type":"quantitative"},"color":{"field":"arm","type":"nominal"}},"layer":[
 {"transform":[{"filter":"datum.v>=datum.vmax"}],"mark":{"type":"text","align":"left","dx":-11,"dy":-22,"fontWeight":"bold"},"encoding":{"text":{"field":"v","type":"quantitative","format":".1%"}}},
 {"transform":[{"filter":"datum.v>=datum.vmax"}],"mark":{"type":"text","align":"left","dx":-11,"dy":-13},"encoding":{"text":{"field":"ci"}}},
 {"transform":[{"filter":"datum.v<datum.vmax"}],"mark":{"type":"text","align":"left","dx":-11,"dy":19,"fontWeight":"bold"},"encoding":{"text":{"field":"v","type":"quantitative","format":".1%"}}},
 {"transform":[{"filter":"datum.v<datum.vmax"}],"mark":{"type":"text","align":"left","dx":-11,"dy":28},"encoding":{"text":{"field":"ci"}}}
]},
{"transform":[{"filter":"datum.k=='risk'"}],"encoding":{"x":{"field":"m","type":"quantitative"}},"layer":[
 {"mark":{"type":"text","fontSize":8.5},"encoding":{"y":{"datum":-0.365},"text":{"field":"durvalumab","type":"quantitative"},"color":{"datum":"Durvalumab"}}},
 {"mark":{"type":"text","fontSize":8.5},"encoding":{"y":{"datum":-0.44},"text":{"field":"placebo","type":"quantitative"},"color":{"datum":"Placebo"}}}
]},
{"transform":[{"filter":"datum.k=='hr'"}],"layer":[
 {"mark":{"type":"text","align":"left","fontSize":14,"fontWeight":"bold","color":"#111"},"encoding":{"x":{"datum":-7.8},"y":{"datum":1.065},"text":{"field":"panel"}}},
 {"mark":{"type":"text","align":"left","fontSize":8.5,"color":"#222"},"encoding":{"x":{"datum":-7.9},"y":{"datum":-0.29},"text":{"value":"No. at risk:"}}},
 {"mark":{"type":"text","align":"left","fontSize":8.5},"encoding":{"x":{"datum":-7.9},"y":{"datum":-0.365},"text":{"value":"Durvalumab"},"color":{"datum":"Durvalumab"}}},
 {"mark":{"type":"text","align":"left","fontSize":8.5},"encoding":{"x":{"datum":-7.9},"y":{"datum":-0.44},"text":{"value":"Placebo"},"color":{"datum":"Placebo"}}},
 {"mark":{"type":"text","align":"left","fontWeight":"bold","color":"#222"},"encoding":{"x":{"datum":46.1},"y":{"datum":0.965},"text":{"value":"Arm"}}},
 {"mark":{"type":"text","align":"center","fontWeight":"bold","lineHeight":10,"color":"#222"},"encoding":{"x":{"datum":59.7},"y":{"datum":0.994},"text":{"value":["No. of Events/","Total No. of Patients (%)"]}}},
 {"mark":{"type":"text","align":"center","fontWeight":"bold","lineHeight":10,"color":"#222"},"encoding":{"x":{"datum":72.2},"y":{"datum":0.994},"text":{"value":["Median OS","(95% CI), Months"]}}},
 {"mark":{"type":"rule","color":"#444","strokeWidth":1.5},"encoding":{"x":{"datum":45.4},"x2":{"datum":79.5},"y":{"datum":0.915}}},
 {"mark":{"type":"rule","color":"#444","strokeWidth":1.5},"encoding":{"x":{"datum":45.4},"x2":{"datum":79.5},"y":{"datum":0.74}}},
 {"mark":{"type":"text","align":"right","fontWeight":"bold","color":"#222"},"encoding":{"x":{"datum":79.5},"y":{"datum":0.692},"text":{"field":"hr"}}}
]},
{"transform":[{"filter":"datum.k=='tab' && datum.arm=='Durvalumab'"}],"encoding":{"y":{"datum":0.866}},"layer":[
 {"mark":{"type":"text","align":"left","fontSize":8.3},"encoding":{"x":{"datum":45.4},"text":{"field":"arm"},"color":{"field":"arm","type":"nominal"}}},
 {"mark":{"type":"text","align":"center","color":"#222"},"encoding":{"x":{"datum":59.7},"text":{"field":"ev"}}},
 {"mark":{"type":"text","align":"center","color":"#222"},"encoding":{"x":{"datum":72.2},"text":{"field":"med"}}}
]},
{"transform":[{"filter":"datum.k=='tab' && datum.arm=='Placebo'"}],"encoding":{"y":{"datum":0.791}},"layer":[
 {"mark":{"type":"text","align":"left","fontSize":8.3},"encoding":{"x":{"datum":45.4},"text":{"field":"arm"},"color":{"field":"arm","type":"nominal"}}},
 {"mark":{"type":"text","align":"center","color":"#222"},"encoding":{"x":{"datum":59.7},"text":{"field":"ev"}}},
 {"mark":{"type":"text","align":"center","color":"#222"},"encoding":{"x":{"datum":72.2},"text":{"field":"med"}}}
]}
]},
{"width":535,"height":172,"data":{"name":"F"},"layer":[
{"transform":[{"filter":"datum.k=='km'"}],"mark":{"type":"line","interpolate":"step-after","strokeWidth":1.4},"encoding":{"x":{"field":"t","type":"quantitative","scale":{"domain":[0,75.6],"nice":false,"zero":false},"axis":{"values":[0,1,3,6,9,12,15,18,21,24,27,30,33,36,39,42,45,48,51,54,57,60,63,66,69,72,75],"tickCount":40,"title":"Time Since Random Assignment (months)","labelOverlap":false,"labelFlush":false}},"y":{"field":"s","type":"quantitative","scale":{"domain":[0,1],"nice":false,"zero":false},"axis":{"values":[0,0.1,0.2,0.3,0.4,0.5,0.6,0.7,0.8,0.9,1],"tickCount":20,"format":".1f","title":"OS (probability)","titlePadding":9,"labelOverlap":false,"labelFlush":false}},"color":{"field":"arm","type":"nominal","scale":{"domain":["Durvalumab","Placebo"],"range":["#3d7fc1","#b22a3c"]},"legend":null}}},
{"transform":[{"filter":"datum.k=='cen'"}],"mark":{"type":"tick","orient":"vertical","size":7,"thickness":1},"encoding":{"x":{"field":"t","type":"quantitative"},"y":{"field":"s","type":"quantitative"},"color":{"field":"arm","type":"nominal"}}},
{"transform":[{"filter":"datum.k=='lm'"}],"mark":{"type":"rule","strokeDash":[4,3],"color":"#222","strokeWidth":1.1},"encoding":{"x":{"field":"m","type":"quantitative"},"y":{"aggregate":"max","field":"v","type":"quantitative"},"y2":{"datum":0}}},
{"transform":[{"filter":"datum.k=='lm'"},{"joinaggregate":[{"op":"max","field":"v","as":"vmax"}],"groupby":["m"]}],"encoding":{"x":{"field":"m","type":"quantitative"},"y":{"field":"v","type":"quantitative"},"color":{"field":"arm","type":"nominal"}},"layer":[
 {"transform":[{"filter":"datum.v>=datum.vmax"}],"mark":{"type":"text","align":"left","dx":-11,"dy":-22,"fontWeight":"bold"},"encoding":{"text":{"field":"v","type":"quantitative","format":".1%"}}},
 {"transform":[{"filter":"datum.v>=datum.vmax"}],"mark":{"type":"text","align":"left","dx":-11,"dy":-13},"encoding":{"text":{"field":"ci"}}},
 {"transform":[{"filter":"datum.v<datum.vmax"}],"mark":{"type":"text","align":"left","dx":-11,"dy":19,"fontWeight":"bold"},"encoding":{"text":{"field":"v","type":"quantitative","format":".1%"}}},
 {"transform":[{"filter":"datum.v<datum.vmax"}],"mark":{"type":"text","align":"left","dx":-11,"dy":28},"encoding":{"text":{"field":"ci"}}}
]},
{"transform":[{"filter":"datum.k=='risk'"}],"encoding":{"x":{"field":"m","type":"quantitative"}},"layer":[
 {"mark":{"type":"text","fontSize":8.5},"encoding":{"y":{"datum":-0.365},"text":{"field":"durvalumab","type":"quantitative"},"color":{"datum":"Durvalumab"}}},
 {"mark":{"type":"text","fontSize":8.5},"encoding":{"y":{"datum":-0.44},"text":{"field":"placebo","type":"quantitative"},"color":{"datum":"Placebo"}}}
]},
{"transform":[{"filter":"datum.k=='hr'"}],"layer":[
 {"mark":{"type":"text","align":"left","fontSize":14,"fontWeight":"bold","color":"#111"},"encoding":{"x":{"datum":-7.8},"y":{"datum":1.065},"text":{"field":"panel"}}},
 {"mark":{"type":"text","align":"left","fontSize":8.5,"color":"#222"},"encoding":{"x":{"datum":-7.9},"y":{"datum":-0.29},"text":{"value":"No. at risk:"}}},
 {"mark":{"type":"text","align":"left","fontSize":8.5},"encoding":{"x":{"datum":-7.9},"y":{"datum":-0.365},"text":{"value":"Durvalumab"},"color":{"datum":"Durvalumab"}}},
 {"mark":{"type":"text","align":"left","fontSize":8.5},"encoding":{"x":{"datum":-7.9},"y":{"datum":-0.44},"text":{"value":"Placebo"},"color":{"datum":"Placebo"}}},
 {"mark":{"type":"text","align":"left","fontWeight":"bold","color":"#222"},"encoding":{"x":{"datum":47.4},"y":{"datum":0.965},"text":{"value":"Arm"}}},
 {"mark":{"type":"text","align":"center","fontWeight":"bold","lineHeight":10,"color":"#222"},"encoding":{"x":{"datum":61.3},"y":{"datum":0.994},"text":{"value":["No. of Events/","Total No. of Patients (%)"]}}},
 {"mark":{"type":"text","align":"center","fontWeight":"bold","lineHeight":10,"color":"#222"},"encoding":{"x":{"datum":73.9},"y":{"datum":0.994},"text":{"value":["Median OS","(95% CI), Months"]}}},
 {"mark":{"type":"rule","color":"#444","strokeWidth":1.5},"encoding":{"x":{"datum":47},"x2":{"datum":79.9},"y":{"datum":0.917}}},
 {"mark":{"type":"rule","color":"#444","strokeWidth":1.5},"encoding":{"x":{"datum":47},"x2":{"datum":79.9},"y":{"datum":0.741}}},
 {"mark":{"type":"text","align":"right","fontWeight":"bold","color":"#222"},"encoding":{"x":{"datum":79.8},"y":{"datum":0.696},"text":{"field":"hr"}}}
]},
{"transform":[{"filter":"datum.k=='tab' && datum.arm=='Durvalumab'"}],"encoding":{"y":{"datum":0.866}},"layer":[
 {"mark":{"type":"text","align":"left","fontSize":8.3},"encoding":{"x":{"datum":47},"text":{"field":"arm"},"color":{"field":"arm","type":"nominal"}}},
 {"mark":{"type":"text","align":"center","color":"#222"},"encoding":{"x":{"datum":61.3},"text":{"field":"ev"}}},
 {"mark":{"type":"text","align":"center","color":"#222"},"encoding":{"x":{"datum":73.9},"text":{"field":"med"}}}
]},
{"transform":[{"filter":"datum.k=='tab' && datum.arm=='Placebo'"}],"encoding":{"y":{"datum":0.789}},"layer":[
 {"mark":{"type":"text","align":"left","fontSize":8.3},"encoding":{"x":{"datum":47},"text":{"field":"arm"},"color":{"field":"arm","type":"nominal"}}},
 {"mark":{"type":"text","align":"center","color":"#222"},"encoding":{"x":{"datum":61.3},"text":{"field":"ev"}}},
 {"mark":{"type":"text","align":"center","color":"#222"},"encoding":{"x":{"datum":73.9},"text":{"field":"med"}}}
]}
]}
]
}
